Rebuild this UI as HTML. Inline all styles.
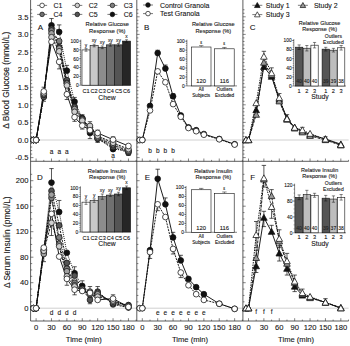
<!DOCTYPE html><html><head><meta charset="utf-8"><style>html,body{margin:0;padding:0;background:#fff;width:350px;height:346px;overflow:hidden}svg{display:block}text{font-family:"Liberation Sans",sans-serif;stroke:#222;stroke-width:0.1px;paint-order:stroke}</style></head><body>
<svg width="350" height="346" viewBox="0 0 350 346">
<line x1="30.60" y1="140.00" x2="348.60" y2="140.00" stroke="#c4c4c4" stroke-width="0.8" />
<line x1="30.60" y1="308.20" x2="348.60" y2="308.20" stroke="#c4c4c4" stroke-width="0.8" />
<line x1="30.60" y1="0.00" x2="30.60" y2="321.00" stroke="#333" stroke-width="0.8" />
<line x1="136.80" y1="0.00" x2="136.80" y2="321.00" stroke="#333" stroke-width="0.8" />
<line x1="242.90" y1="0.00" x2="242.90" y2="321.00" stroke="#333" stroke-width="0.8" />
<line x1="30.60" y1="161.30" x2="348.60" y2="161.30" stroke="#333" stroke-width="0.8" />
<line x1="30.60" y1="321.00" x2="348.60" y2="321.00" stroke="#333" stroke-width="0.8" />
<line x1="30.60" y1="157.60" x2="33.40" y2="157.60" stroke="#333" stroke-width="0.6" />
<line x1="30.60" y1="154.08" x2="32.20" y2="154.08" stroke="#333" stroke-width="0.6" />
<line x1="30.60" y1="150.56" x2="32.20" y2="150.56" stroke="#333" stroke-width="0.6" />
<line x1="30.60" y1="147.04" x2="32.20" y2="147.04" stroke="#333" stroke-width="0.6" />
<line x1="30.60" y1="143.52" x2="32.20" y2="143.52" stroke="#333" stroke-width="0.6" />
<line x1="30.60" y1="140.00" x2="33.40" y2="140.00" stroke="#333" stroke-width="0.6" />
<line x1="30.60" y1="136.48" x2="32.20" y2="136.48" stroke="#333" stroke-width="0.6" />
<line x1="30.60" y1="132.96" x2="32.20" y2="132.96" stroke="#333" stroke-width="0.6" />
<line x1="30.60" y1="129.44" x2="32.20" y2="129.44" stroke="#333" stroke-width="0.6" />
<line x1="30.60" y1="125.92" x2="32.20" y2="125.92" stroke="#333" stroke-width="0.6" />
<line x1="30.60" y1="122.40" x2="33.40" y2="122.40" stroke="#333" stroke-width="0.6" />
<line x1="30.60" y1="118.88" x2="32.20" y2="118.88" stroke="#333" stroke-width="0.6" />
<line x1="30.60" y1="115.36" x2="32.20" y2="115.36" stroke="#333" stroke-width="0.6" />
<line x1="30.60" y1="111.84" x2="32.20" y2="111.84" stroke="#333" stroke-width="0.6" />
<line x1="30.60" y1="108.32" x2="32.20" y2="108.32" stroke="#333" stroke-width="0.6" />
<line x1="30.60" y1="104.80" x2="33.40" y2="104.80" stroke="#333" stroke-width="0.6" />
<line x1="30.60" y1="101.28" x2="32.20" y2="101.28" stroke="#333" stroke-width="0.6" />
<line x1="30.60" y1="97.76" x2="32.20" y2="97.76" stroke="#333" stroke-width="0.6" />
<line x1="30.60" y1="94.24" x2="32.20" y2="94.24" stroke="#333" stroke-width="0.6" />
<line x1="30.60" y1="90.72" x2="32.20" y2="90.72" stroke="#333" stroke-width="0.6" />
<line x1="30.60" y1="87.20" x2="33.40" y2="87.20" stroke="#333" stroke-width="0.6" />
<line x1="30.60" y1="83.68" x2="32.20" y2="83.68" stroke="#333" stroke-width="0.6" />
<line x1="30.60" y1="80.16" x2="32.20" y2="80.16" stroke="#333" stroke-width="0.6" />
<line x1="30.60" y1="76.64" x2="32.20" y2="76.64" stroke="#333" stroke-width="0.6" />
<line x1="30.60" y1="73.12" x2="32.20" y2="73.12" stroke="#333" stroke-width="0.6" />
<line x1="30.60" y1="69.60" x2="33.40" y2="69.60" stroke="#333" stroke-width="0.6" />
<line x1="30.60" y1="66.08" x2="32.20" y2="66.08" stroke="#333" stroke-width="0.6" />
<line x1="30.60" y1="62.56" x2="32.20" y2="62.56" stroke="#333" stroke-width="0.6" />
<line x1="30.60" y1="59.04" x2="32.20" y2="59.04" stroke="#333" stroke-width="0.6" />
<line x1="30.60" y1="55.52" x2="32.20" y2="55.52" stroke="#333" stroke-width="0.6" />
<line x1="30.60" y1="52.00" x2="33.40" y2="52.00" stroke="#333" stroke-width="0.6" />
<line x1="30.60" y1="48.48" x2="32.20" y2="48.48" stroke="#333" stroke-width="0.6" />
<line x1="30.60" y1="44.96" x2="32.20" y2="44.96" stroke="#333" stroke-width="0.6" />
<line x1="30.60" y1="41.44" x2="32.20" y2="41.44" stroke="#333" stroke-width="0.6" />
<line x1="30.60" y1="37.92" x2="32.20" y2="37.92" stroke="#333" stroke-width="0.6" />
<line x1="30.60" y1="34.40" x2="33.40" y2="34.40" stroke="#333" stroke-width="0.6" />
<line x1="30.60" y1="30.88" x2="32.20" y2="30.88" stroke="#333" stroke-width="0.6" />
<line x1="30.60" y1="27.36" x2="32.20" y2="27.36" stroke="#333" stroke-width="0.6" />
<line x1="30.60" y1="23.84" x2="32.20" y2="23.84" stroke="#333" stroke-width="0.6" />
<line x1="30.60" y1="20.32" x2="32.20" y2="20.32" stroke="#333" stroke-width="0.6" />
<line x1="30.60" y1="16.80" x2="33.40" y2="16.80" stroke="#333" stroke-width="0.6" />
<line x1="30.60" y1="13.28" x2="32.20" y2="13.28" stroke="#333" stroke-width="0.6" />
<line x1="30.60" y1="9.76" x2="32.20" y2="9.76" stroke="#333" stroke-width="0.6" />
<line x1="30.60" y1="308.20" x2="33.40" y2="308.20" stroke="#333" stroke-width="0.6" />
<line x1="30.60" y1="301.82" x2="32.20" y2="301.82" stroke="#333" stroke-width="0.6" />
<line x1="30.60" y1="295.45" x2="32.20" y2="295.45" stroke="#333" stroke-width="0.6" />
<line x1="30.60" y1="289.07" x2="32.20" y2="289.07" stroke="#333" stroke-width="0.6" />
<line x1="30.60" y1="282.70" x2="33.40" y2="282.70" stroke="#333" stroke-width="0.6" />
<line x1="30.60" y1="276.32" x2="32.20" y2="276.32" stroke="#333" stroke-width="0.6" />
<line x1="30.60" y1="269.95" x2="32.20" y2="269.95" stroke="#333" stroke-width="0.6" />
<line x1="30.60" y1="263.57" x2="32.20" y2="263.57" stroke="#333" stroke-width="0.6" />
<line x1="30.60" y1="257.20" x2="33.40" y2="257.20" stroke="#333" stroke-width="0.6" />
<line x1="30.60" y1="250.82" x2="32.20" y2="250.82" stroke="#333" stroke-width="0.6" />
<line x1="30.60" y1="244.45" x2="32.20" y2="244.45" stroke="#333" stroke-width="0.6" />
<line x1="30.60" y1="238.07" x2="32.20" y2="238.07" stroke="#333" stroke-width="0.6" />
<line x1="30.60" y1="231.70" x2="33.40" y2="231.70" stroke="#333" stroke-width="0.6" />
<line x1="30.60" y1="225.32" x2="32.20" y2="225.32" stroke="#333" stroke-width="0.6" />
<line x1="30.60" y1="218.95" x2="32.20" y2="218.95" stroke="#333" stroke-width="0.6" />
<line x1="30.60" y1="212.57" x2="32.20" y2="212.57" stroke="#333" stroke-width="0.6" />
<line x1="30.60" y1="206.20" x2="33.40" y2="206.20" stroke="#333" stroke-width="0.6" />
<line x1="30.60" y1="199.82" x2="32.20" y2="199.82" stroke="#333" stroke-width="0.6" />
<line x1="30.60" y1="193.45" x2="32.20" y2="193.45" stroke="#333" stroke-width="0.6" />
<line x1="30.60" y1="187.07" x2="32.20" y2="187.07" stroke="#333" stroke-width="0.6" />
<line x1="30.60" y1="180.70" x2="33.40" y2="180.70" stroke="#333" stroke-width="0.6" />
<line x1="30.60" y1="174.32" x2="32.20" y2="174.32" stroke="#333" stroke-width="0.6" />
<line x1="36.10" y1="161.30" x2="36.10" y2="158.50" stroke="#333" stroke-width="0.6" />
<line x1="36.10" y1="321.00" x2="36.10" y2="318.20" stroke="#333" stroke-width="0.6" />
<line x1="43.80" y1="161.30" x2="43.80" y2="159.90" stroke="#333" stroke-width="0.6" />
<line x1="43.80" y1="321.00" x2="43.80" y2="319.60" stroke="#333" stroke-width="0.6" />
<line x1="51.49" y1="161.30" x2="51.49" y2="158.50" stroke="#333" stroke-width="0.6" />
<line x1="51.49" y1="321.00" x2="51.49" y2="318.20" stroke="#333" stroke-width="0.6" />
<line x1="59.19" y1="161.30" x2="59.19" y2="159.90" stroke="#333" stroke-width="0.6" />
<line x1="59.19" y1="321.00" x2="59.19" y2="319.60" stroke="#333" stroke-width="0.6" />
<line x1="66.88" y1="161.30" x2="66.88" y2="158.50" stroke="#333" stroke-width="0.6" />
<line x1="66.88" y1="321.00" x2="66.88" y2="318.20" stroke="#333" stroke-width="0.6" />
<line x1="74.58" y1="161.30" x2="74.58" y2="159.90" stroke="#333" stroke-width="0.6" />
<line x1="74.58" y1="321.00" x2="74.58" y2="319.60" stroke="#333" stroke-width="0.6" />
<line x1="82.27" y1="161.30" x2="82.27" y2="158.50" stroke="#333" stroke-width="0.6" />
<line x1="82.27" y1="321.00" x2="82.27" y2="318.20" stroke="#333" stroke-width="0.6" />
<line x1="89.97" y1="161.30" x2="89.97" y2="159.90" stroke="#333" stroke-width="0.6" />
<line x1="89.97" y1="321.00" x2="89.97" y2="319.60" stroke="#333" stroke-width="0.6" />
<line x1="97.66" y1="161.30" x2="97.66" y2="158.50" stroke="#333" stroke-width="0.6" />
<line x1="97.66" y1="321.00" x2="97.66" y2="318.20" stroke="#333" stroke-width="0.6" />
<line x1="105.35" y1="161.30" x2="105.35" y2="159.90" stroke="#333" stroke-width="0.6" />
<line x1="105.35" y1="321.00" x2="105.35" y2="319.60" stroke="#333" stroke-width="0.6" />
<line x1="113.05" y1="161.30" x2="113.05" y2="158.50" stroke="#333" stroke-width="0.6" />
<line x1="113.05" y1="321.00" x2="113.05" y2="318.20" stroke="#333" stroke-width="0.6" />
<line x1="120.75" y1="161.30" x2="120.75" y2="159.90" stroke="#333" stroke-width="0.6" />
<line x1="120.75" y1="321.00" x2="120.75" y2="319.60" stroke="#333" stroke-width="0.6" />
<line x1="128.44" y1="161.30" x2="128.44" y2="158.50" stroke="#333" stroke-width="0.6" />
<line x1="128.44" y1="321.00" x2="128.44" y2="318.20" stroke="#333" stroke-width="0.6" />
<line x1="136.13" y1="161.30" x2="136.13" y2="159.90" stroke="#333" stroke-width="0.6" />
<line x1="136.13" y1="321.00" x2="136.13" y2="319.60" stroke="#333" stroke-width="0.6" />
<text x="36.1" y="330.0" font-size="7.6" text-anchor="middle" fill="#111" >0</text>
<text x="51.5" y="330.0" font-size="7.6" text-anchor="middle" fill="#111" >30</text>
<text x="66.9" y="330.0" font-size="7.6" text-anchor="middle" fill="#111" >60</text>
<text x="82.3" y="330.0" font-size="7.6" text-anchor="middle" fill="#111" >90</text>
<text x="97.7" y="330.0" font-size="7.6" text-anchor="middle" fill="#111" >120</text>
<text x="113.1" y="330.0" font-size="7.6" text-anchor="middle" fill="#111" >150</text>
<text x="128.4" y="330.0" font-size="7.6" text-anchor="middle" fill="#111" >180</text>
<text x="83.8" y="342.3" font-size="7.6" text-anchor="middle" fill="#111" >Time (min)</text>
<line x1="136.80" y1="157.60" x2="139.60" y2="157.60" stroke="#333" stroke-width="0.6" />
<line x1="136.80" y1="154.08" x2="138.40" y2="154.08" stroke="#333" stroke-width="0.6" />
<line x1="136.80" y1="150.56" x2="138.40" y2="150.56" stroke="#333" stroke-width="0.6" />
<line x1="136.80" y1="147.04" x2="138.40" y2="147.04" stroke="#333" stroke-width="0.6" />
<line x1="136.80" y1="143.52" x2="138.40" y2="143.52" stroke="#333" stroke-width="0.6" />
<line x1="136.80" y1="140.00" x2="139.60" y2="140.00" stroke="#333" stroke-width="0.6" />
<line x1="136.80" y1="136.48" x2="138.40" y2="136.48" stroke="#333" stroke-width="0.6" />
<line x1="136.80" y1="132.96" x2="138.40" y2="132.96" stroke="#333" stroke-width="0.6" />
<line x1="136.80" y1="129.44" x2="138.40" y2="129.44" stroke="#333" stroke-width="0.6" />
<line x1="136.80" y1="125.92" x2="138.40" y2="125.92" stroke="#333" stroke-width="0.6" />
<line x1="136.80" y1="122.40" x2="139.60" y2="122.40" stroke="#333" stroke-width="0.6" />
<line x1="136.80" y1="118.88" x2="138.40" y2="118.88" stroke="#333" stroke-width="0.6" />
<line x1="136.80" y1="115.36" x2="138.40" y2="115.36" stroke="#333" stroke-width="0.6" />
<line x1="136.80" y1="111.84" x2="138.40" y2="111.84" stroke="#333" stroke-width="0.6" />
<line x1="136.80" y1="108.32" x2="138.40" y2="108.32" stroke="#333" stroke-width="0.6" />
<line x1="136.80" y1="104.80" x2="139.60" y2="104.80" stroke="#333" stroke-width="0.6" />
<line x1="136.80" y1="101.28" x2="138.40" y2="101.28" stroke="#333" stroke-width="0.6" />
<line x1="136.80" y1="97.76" x2="138.40" y2="97.76" stroke="#333" stroke-width="0.6" />
<line x1="136.80" y1="94.24" x2="138.40" y2="94.24" stroke="#333" stroke-width="0.6" />
<line x1="136.80" y1="90.72" x2="138.40" y2="90.72" stroke="#333" stroke-width="0.6" />
<line x1="136.80" y1="87.20" x2="139.60" y2="87.20" stroke="#333" stroke-width="0.6" />
<line x1="136.80" y1="83.68" x2="138.40" y2="83.68" stroke="#333" stroke-width="0.6" />
<line x1="136.80" y1="80.16" x2="138.40" y2="80.16" stroke="#333" stroke-width="0.6" />
<line x1="136.80" y1="76.64" x2="138.40" y2="76.64" stroke="#333" stroke-width="0.6" />
<line x1="136.80" y1="73.12" x2="138.40" y2="73.12" stroke="#333" stroke-width="0.6" />
<line x1="136.80" y1="69.60" x2="139.60" y2="69.60" stroke="#333" stroke-width="0.6" />
<line x1="136.80" y1="66.08" x2="138.40" y2="66.08" stroke="#333" stroke-width="0.6" />
<line x1="136.80" y1="62.56" x2="138.40" y2="62.56" stroke="#333" stroke-width="0.6" />
<line x1="136.80" y1="59.04" x2="138.40" y2="59.04" stroke="#333" stroke-width="0.6" />
<line x1="136.80" y1="55.52" x2="138.40" y2="55.52" stroke="#333" stroke-width="0.6" />
<line x1="136.80" y1="52.00" x2="139.60" y2="52.00" stroke="#333" stroke-width="0.6" />
<line x1="136.80" y1="48.48" x2="138.40" y2="48.48" stroke="#333" stroke-width="0.6" />
<line x1="136.80" y1="44.96" x2="138.40" y2="44.96" stroke="#333" stroke-width="0.6" />
<line x1="136.80" y1="41.44" x2="138.40" y2="41.44" stroke="#333" stroke-width="0.6" />
<line x1="136.80" y1="37.92" x2="138.40" y2="37.92" stroke="#333" stroke-width="0.6" />
<line x1="136.80" y1="34.40" x2="139.60" y2="34.40" stroke="#333" stroke-width="0.6" />
<line x1="136.80" y1="30.88" x2="138.40" y2="30.88" stroke="#333" stroke-width="0.6" />
<line x1="136.80" y1="27.36" x2="138.40" y2="27.36" stroke="#333" stroke-width="0.6" />
<line x1="136.80" y1="23.84" x2="138.40" y2="23.84" stroke="#333" stroke-width="0.6" />
<line x1="136.80" y1="20.32" x2="138.40" y2="20.32" stroke="#333" stroke-width="0.6" />
<line x1="136.80" y1="16.80" x2="139.60" y2="16.80" stroke="#333" stroke-width="0.6" />
<line x1="136.80" y1="13.28" x2="138.40" y2="13.28" stroke="#333" stroke-width="0.6" />
<line x1="136.80" y1="9.76" x2="138.40" y2="9.76" stroke="#333" stroke-width="0.6" />
<line x1="136.80" y1="308.20" x2="139.60" y2="308.20" stroke="#333" stroke-width="0.6" />
<line x1="136.80" y1="301.82" x2="138.40" y2="301.82" stroke="#333" stroke-width="0.6" />
<line x1="136.80" y1="295.45" x2="138.40" y2="295.45" stroke="#333" stroke-width="0.6" />
<line x1="136.80" y1="289.07" x2="138.40" y2="289.07" stroke="#333" stroke-width="0.6" />
<line x1="136.80" y1="282.70" x2="139.60" y2="282.70" stroke="#333" stroke-width="0.6" />
<line x1="136.80" y1="276.32" x2="138.40" y2="276.32" stroke="#333" stroke-width="0.6" />
<line x1="136.80" y1="269.95" x2="138.40" y2="269.95" stroke="#333" stroke-width="0.6" />
<line x1="136.80" y1="263.57" x2="138.40" y2="263.57" stroke="#333" stroke-width="0.6" />
<line x1="136.80" y1="257.20" x2="139.60" y2="257.20" stroke="#333" stroke-width="0.6" />
<line x1="136.80" y1="250.82" x2="138.40" y2="250.82" stroke="#333" stroke-width="0.6" />
<line x1="136.80" y1="244.45" x2="138.40" y2="244.45" stroke="#333" stroke-width="0.6" />
<line x1="136.80" y1="238.07" x2="138.40" y2="238.07" stroke="#333" stroke-width="0.6" />
<line x1="136.80" y1="231.70" x2="139.60" y2="231.70" stroke="#333" stroke-width="0.6" />
<line x1="136.80" y1="225.32" x2="138.40" y2="225.32" stroke="#333" stroke-width="0.6" />
<line x1="136.80" y1="218.95" x2="138.40" y2="218.95" stroke="#333" stroke-width="0.6" />
<line x1="136.80" y1="212.57" x2="138.40" y2="212.57" stroke="#333" stroke-width="0.6" />
<line x1="136.80" y1="206.20" x2="139.60" y2="206.20" stroke="#333" stroke-width="0.6" />
<line x1="136.80" y1="199.82" x2="138.40" y2="199.82" stroke="#333" stroke-width="0.6" />
<line x1="136.80" y1="193.45" x2="138.40" y2="193.45" stroke="#333" stroke-width="0.6" />
<line x1="136.80" y1="187.07" x2="138.40" y2="187.07" stroke="#333" stroke-width="0.6" />
<line x1="136.80" y1="180.70" x2="139.60" y2="180.70" stroke="#333" stroke-width="0.6" />
<line x1="136.80" y1="174.32" x2="138.40" y2="174.32" stroke="#333" stroke-width="0.6" />
<line x1="142.30" y1="161.30" x2="142.30" y2="158.50" stroke="#333" stroke-width="0.6" />
<line x1="142.30" y1="321.00" x2="142.30" y2="318.20" stroke="#333" stroke-width="0.6" />
<line x1="150.00" y1="161.30" x2="150.00" y2="159.90" stroke="#333" stroke-width="0.6" />
<line x1="150.00" y1="321.00" x2="150.00" y2="319.60" stroke="#333" stroke-width="0.6" />
<line x1="157.69" y1="161.30" x2="157.69" y2="158.50" stroke="#333" stroke-width="0.6" />
<line x1="157.69" y1="321.00" x2="157.69" y2="318.20" stroke="#333" stroke-width="0.6" />
<line x1="165.39" y1="161.30" x2="165.39" y2="159.90" stroke="#333" stroke-width="0.6" />
<line x1="165.39" y1="321.00" x2="165.39" y2="319.60" stroke="#333" stroke-width="0.6" />
<line x1="173.08" y1="161.30" x2="173.08" y2="158.50" stroke="#333" stroke-width="0.6" />
<line x1="173.08" y1="321.00" x2="173.08" y2="318.20" stroke="#333" stroke-width="0.6" />
<line x1="180.78" y1="161.30" x2="180.78" y2="159.90" stroke="#333" stroke-width="0.6" />
<line x1="180.78" y1="321.00" x2="180.78" y2="319.60" stroke="#333" stroke-width="0.6" />
<line x1="188.47" y1="161.30" x2="188.47" y2="158.50" stroke="#333" stroke-width="0.6" />
<line x1="188.47" y1="321.00" x2="188.47" y2="318.20" stroke="#333" stroke-width="0.6" />
<line x1="196.17" y1="161.30" x2="196.17" y2="159.90" stroke="#333" stroke-width="0.6" />
<line x1="196.17" y1="321.00" x2="196.17" y2="319.60" stroke="#333" stroke-width="0.6" />
<line x1="203.86" y1="161.30" x2="203.86" y2="158.50" stroke="#333" stroke-width="0.6" />
<line x1="203.86" y1="321.00" x2="203.86" y2="318.20" stroke="#333" stroke-width="0.6" />
<line x1="211.56" y1="161.30" x2="211.56" y2="159.90" stroke="#333" stroke-width="0.6" />
<line x1="211.56" y1="321.00" x2="211.56" y2="319.60" stroke="#333" stroke-width="0.6" />
<line x1="219.25" y1="161.30" x2="219.25" y2="158.50" stroke="#333" stroke-width="0.6" />
<line x1="219.25" y1="321.00" x2="219.25" y2="318.20" stroke="#333" stroke-width="0.6" />
<line x1="226.94" y1="161.30" x2="226.94" y2="159.90" stroke="#333" stroke-width="0.6" />
<line x1="226.94" y1="321.00" x2="226.94" y2="319.60" stroke="#333" stroke-width="0.6" />
<line x1="234.64" y1="161.30" x2="234.64" y2="158.50" stroke="#333" stroke-width="0.6" />
<line x1="234.64" y1="321.00" x2="234.64" y2="318.20" stroke="#333" stroke-width="0.6" />
<line x1="242.34" y1="161.30" x2="242.34" y2="159.90" stroke="#333" stroke-width="0.6" />
<line x1="242.34" y1="321.00" x2="242.34" y2="319.60" stroke="#333" stroke-width="0.6" />
<text x="142.3" y="330.0" font-size="7.6" text-anchor="middle" fill="#111" >0</text>
<text x="157.7" y="330.0" font-size="7.6" text-anchor="middle" fill="#111" >30</text>
<text x="173.1" y="330.0" font-size="7.6" text-anchor="middle" fill="#111" >60</text>
<text x="188.5" y="330.0" font-size="7.6" text-anchor="middle" fill="#111" >90</text>
<text x="203.9" y="330.0" font-size="7.6" text-anchor="middle" fill="#111" >120</text>
<text x="219.2" y="330.0" font-size="7.6" text-anchor="middle" fill="#111" >150</text>
<text x="234.6" y="330.0" font-size="7.6" text-anchor="middle" fill="#111" >180</text>
<text x="190.0" y="342.3" font-size="7.6" text-anchor="middle" fill="#111" >Time (min)</text>
<line x1="242.90" y1="157.60" x2="245.70" y2="157.60" stroke="#333" stroke-width="0.6" />
<line x1="242.90" y1="154.08" x2="244.50" y2="154.08" stroke="#333" stroke-width="0.6" />
<line x1="242.90" y1="150.56" x2="244.50" y2="150.56" stroke="#333" stroke-width="0.6" />
<line x1="242.90" y1="147.04" x2="244.50" y2="147.04" stroke="#333" stroke-width="0.6" />
<line x1="242.90" y1="143.52" x2="244.50" y2="143.52" stroke="#333" stroke-width="0.6" />
<line x1="242.90" y1="140.00" x2="245.70" y2="140.00" stroke="#333" stroke-width="0.6" />
<line x1="242.90" y1="136.48" x2="244.50" y2="136.48" stroke="#333" stroke-width="0.6" />
<line x1="242.90" y1="132.96" x2="244.50" y2="132.96" stroke="#333" stroke-width="0.6" />
<line x1="242.90" y1="129.44" x2="244.50" y2="129.44" stroke="#333" stroke-width="0.6" />
<line x1="242.90" y1="125.92" x2="244.50" y2="125.92" stroke="#333" stroke-width="0.6" />
<line x1="242.90" y1="122.40" x2="245.70" y2="122.40" stroke="#333" stroke-width="0.6" />
<line x1="242.90" y1="118.88" x2="244.50" y2="118.88" stroke="#333" stroke-width="0.6" />
<line x1="242.90" y1="115.36" x2="244.50" y2="115.36" stroke="#333" stroke-width="0.6" />
<line x1="242.90" y1="111.84" x2="244.50" y2="111.84" stroke="#333" stroke-width="0.6" />
<line x1="242.90" y1="108.32" x2="244.50" y2="108.32" stroke="#333" stroke-width="0.6" />
<line x1="242.90" y1="104.80" x2="245.70" y2="104.80" stroke="#333" stroke-width="0.6" />
<line x1="242.90" y1="101.28" x2="244.50" y2="101.28" stroke="#333" stroke-width="0.6" />
<line x1="242.90" y1="97.76" x2="244.50" y2="97.76" stroke="#333" stroke-width="0.6" />
<line x1="242.90" y1="94.24" x2="244.50" y2="94.24" stroke="#333" stroke-width="0.6" />
<line x1="242.90" y1="90.72" x2="244.50" y2="90.72" stroke="#333" stroke-width="0.6" />
<line x1="242.90" y1="87.20" x2="245.70" y2="87.20" stroke="#333" stroke-width="0.6" />
<line x1="242.90" y1="83.68" x2="244.50" y2="83.68" stroke="#333" stroke-width="0.6" />
<line x1="242.90" y1="80.16" x2="244.50" y2="80.16" stroke="#333" stroke-width="0.6" />
<line x1="242.90" y1="76.64" x2="244.50" y2="76.64" stroke="#333" stroke-width="0.6" />
<line x1="242.90" y1="73.12" x2="244.50" y2="73.12" stroke="#333" stroke-width="0.6" />
<line x1="242.90" y1="69.60" x2="245.70" y2="69.60" stroke="#333" stroke-width="0.6" />
<line x1="242.90" y1="66.08" x2="244.50" y2="66.08" stroke="#333" stroke-width="0.6" />
<line x1="242.90" y1="62.56" x2="244.50" y2="62.56" stroke="#333" stroke-width="0.6" />
<line x1="242.90" y1="59.04" x2="244.50" y2="59.04" stroke="#333" stroke-width="0.6" />
<line x1="242.90" y1="55.52" x2="244.50" y2="55.52" stroke="#333" stroke-width="0.6" />
<line x1="242.90" y1="52.00" x2="245.70" y2="52.00" stroke="#333" stroke-width="0.6" />
<line x1="242.90" y1="48.48" x2="244.50" y2="48.48" stroke="#333" stroke-width="0.6" />
<line x1="242.90" y1="44.96" x2="244.50" y2="44.96" stroke="#333" stroke-width="0.6" />
<line x1="242.90" y1="41.44" x2="244.50" y2="41.44" stroke="#333" stroke-width="0.6" />
<line x1="242.90" y1="37.92" x2="244.50" y2="37.92" stroke="#333" stroke-width="0.6" />
<line x1="242.90" y1="34.40" x2="245.70" y2="34.40" stroke="#333" stroke-width="0.6" />
<line x1="242.90" y1="30.88" x2="244.50" y2="30.88" stroke="#333" stroke-width="0.6" />
<line x1="242.90" y1="27.36" x2="244.50" y2="27.36" stroke="#333" stroke-width="0.6" />
<line x1="242.90" y1="23.84" x2="244.50" y2="23.84" stroke="#333" stroke-width="0.6" />
<line x1="242.90" y1="20.32" x2="244.50" y2="20.32" stroke="#333" stroke-width="0.6" />
<line x1="242.90" y1="16.80" x2="245.70" y2="16.80" stroke="#333" stroke-width="0.6" />
<line x1="242.90" y1="13.28" x2="244.50" y2="13.28" stroke="#333" stroke-width="0.6" />
<line x1="242.90" y1="9.76" x2="244.50" y2="9.76" stroke="#333" stroke-width="0.6" />
<line x1="242.90" y1="308.20" x2="245.70" y2="308.20" stroke="#333" stroke-width="0.6" />
<line x1="242.90" y1="301.82" x2="244.50" y2="301.82" stroke="#333" stroke-width="0.6" />
<line x1="242.90" y1="295.45" x2="244.50" y2="295.45" stroke="#333" stroke-width="0.6" />
<line x1="242.90" y1="289.07" x2="244.50" y2="289.07" stroke="#333" stroke-width="0.6" />
<line x1="242.90" y1="282.70" x2="245.70" y2="282.70" stroke="#333" stroke-width="0.6" />
<line x1="242.90" y1="276.32" x2="244.50" y2="276.32" stroke="#333" stroke-width="0.6" />
<line x1="242.90" y1="269.95" x2="244.50" y2="269.95" stroke="#333" stroke-width="0.6" />
<line x1="242.90" y1="263.57" x2="244.50" y2="263.57" stroke="#333" stroke-width="0.6" />
<line x1="242.90" y1="257.20" x2="245.70" y2="257.20" stroke="#333" stroke-width="0.6" />
<line x1="242.90" y1="250.82" x2="244.50" y2="250.82" stroke="#333" stroke-width="0.6" />
<line x1="242.90" y1="244.45" x2="244.50" y2="244.45" stroke="#333" stroke-width="0.6" />
<line x1="242.90" y1="238.07" x2="244.50" y2="238.07" stroke="#333" stroke-width="0.6" />
<line x1="242.90" y1="231.70" x2="245.70" y2="231.70" stroke="#333" stroke-width="0.6" />
<line x1="242.90" y1="225.32" x2="244.50" y2="225.32" stroke="#333" stroke-width="0.6" />
<line x1="242.90" y1="218.95" x2="244.50" y2="218.95" stroke="#333" stroke-width="0.6" />
<line x1="242.90" y1="212.57" x2="244.50" y2="212.57" stroke="#333" stroke-width="0.6" />
<line x1="242.90" y1="206.20" x2="245.70" y2="206.20" stroke="#333" stroke-width="0.6" />
<line x1="242.90" y1="199.82" x2="244.50" y2="199.82" stroke="#333" stroke-width="0.6" />
<line x1="242.90" y1="193.45" x2="244.50" y2="193.45" stroke="#333" stroke-width="0.6" />
<line x1="242.90" y1="187.07" x2="244.50" y2="187.07" stroke="#333" stroke-width="0.6" />
<line x1="242.90" y1="180.70" x2="245.70" y2="180.70" stroke="#333" stroke-width="0.6" />
<line x1="242.90" y1="174.32" x2="244.50" y2="174.32" stroke="#333" stroke-width="0.6" />
<line x1="248.50" y1="161.30" x2="248.50" y2="158.50" stroke="#333" stroke-width="0.6" />
<line x1="248.50" y1="321.00" x2="248.50" y2="318.20" stroke="#333" stroke-width="0.6" />
<line x1="256.19" y1="161.30" x2="256.19" y2="159.90" stroke="#333" stroke-width="0.6" />
<line x1="256.19" y1="321.00" x2="256.19" y2="319.60" stroke="#333" stroke-width="0.6" />
<line x1="263.89" y1="161.30" x2="263.89" y2="158.50" stroke="#333" stroke-width="0.6" />
<line x1="263.89" y1="321.00" x2="263.89" y2="318.20" stroke="#333" stroke-width="0.6" />
<line x1="271.58" y1="161.30" x2="271.58" y2="159.90" stroke="#333" stroke-width="0.6" />
<line x1="271.58" y1="321.00" x2="271.58" y2="319.60" stroke="#333" stroke-width="0.6" />
<line x1="279.28" y1="161.30" x2="279.28" y2="158.50" stroke="#333" stroke-width="0.6" />
<line x1="279.28" y1="321.00" x2="279.28" y2="318.20" stroke="#333" stroke-width="0.6" />
<line x1="286.98" y1="161.30" x2="286.98" y2="159.90" stroke="#333" stroke-width="0.6" />
<line x1="286.98" y1="321.00" x2="286.98" y2="319.60" stroke="#333" stroke-width="0.6" />
<line x1="294.67" y1="161.30" x2="294.67" y2="158.50" stroke="#333" stroke-width="0.6" />
<line x1="294.67" y1="321.00" x2="294.67" y2="318.20" stroke="#333" stroke-width="0.6" />
<line x1="302.37" y1="161.30" x2="302.37" y2="159.90" stroke="#333" stroke-width="0.6" />
<line x1="302.37" y1="321.00" x2="302.37" y2="319.60" stroke="#333" stroke-width="0.6" />
<line x1="310.06" y1="161.30" x2="310.06" y2="158.50" stroke="#333" stroke-width="0.6" />
<line x1="310.06" y1="321.00" x2="310.06" y2="318.20" stroke="#333" stroke-width="0.6" />
<line x1="317.75" y1="161.30" x2="317.75" y2="159.90" stroke="#333" stroke-width="0.6" />
<line x1="317.75" y1="321.00" x2="317.75" y2="319.60" stroke="#333" stroke-width="0.6" />
<line x1="325.45" y1="161.30" x2="325.45" y2="158.50" stroke="#333" stroke-width="0.6" />
<line x1="325.45" y1="321.00" x2="325.45" y2="318.20" stroke="#333" stroke-width="0.6" />
<line x1="333.14" y1="161.30" x2="333.14" y2="159.90" stroke="#333" stroke-width="0.6" />
<line x1="333.14" y1="321.00" x2="333.14" y2="319.60" stroke="#333" stroke-width="0.6" />
<line x1="340.84" y1="161.30" x2="340.84" y2="158.50" stroke="#333" stroke-width="0.6" />
<line x1="340.84" y1="321.00" x2="340.84" y2="318.20" stroke="#333" stroke-width="0.6" />
<line x1="348.53" y1="161.30" x2="348.53" y2="159.90" stroke="#333" stroke-width="0.6" />
<line x1="348.53" y1="321.00" x2="348.53" y2="319.60" stroke="#333" stroke-width="0.6" />
<text x="248.5" y="330.0" font-size="7.6" text-anchor="middle" fill="#111" >0</text>
<text x="263.9" y="330.0" font-size="7.6" text-anchor="middle" fill="#111" >30</text>
<text x="279.3" y="330.0" font-size="7.6" text-anchor="middle" fill="#111" >60</text>
<text x="294.7" y="330.0" font-size="7.6" text-anchor="middle" fill="#111" >90</text>
<text x="310.1" y="330.0" font-size="7.6" text-anchor="middle" fill="#111" >120</text>
<text x="325.4" y="330.0" font-size="7.6" text-anchor="middle" fill="#111" >150</text>
<text x="340.8" y="330.0" font-size="7.6" text-anchor="middle" fill="#111" >180</text>
<text x="296.1" y="342.3" font-size="7.6" text-anchor="middle" fill="#111" >Time (min)</text>
<text x="28.4" y="160.3" font-size="7.6" text-anchor="end" fill="#111" >-0.5</text>
<text x="28.4" y="142.7" font-size="7.6" text-anchor="end" fill="#111" >0.0</text>
<text x="28.4" y="125.1" font-size="7.6" text-anchor="end" fill="#111" >0.5</text>
<text x="28.4" y="107.5" font-size="7.6" text-anchor="end" fill="#111" >1.0</text>
<text x="28.4" y="89.9" font-size="7.6" text-anchor="end" fill="#111" >1.5</text>
<text x="28.4" y="72.3" font-size="7.6" text-anchor="end" fill="#111" >2.0</text>
<text x="28.4" y="54.7" font-size="7.6" text-anchor="end" fill="#111" >2.5</text>
<text x="28.4" y="37.1" font-size="7.6" text-anchor="end" fill="#111" >3.0</text>
<text x="28.4" y="19.5" font-size="7.6" text-anchor="end" fill="#111" >3.5</text>
<text x="28.4" y="310.9" font-size="7.6" text-anchor="end" fill="#111" >0</text>
<text x="28.4" y="285.4" font-size="7.6" text-anchor="end" fill="#111" >40</text>
<text x="28.4" y="259.9" font-size="7.6" text-anchor="end" fill="#111" >80</text>
<text x="28.4" y="234.4" font-size="7.6" text-anchor="end" fill="#111" >120</text>
<text x="28.4" y="208.9" font-size="7.6" text-anchor="end" fill="#111" >160</text>
<text x="28.4" y="183.4" font-size="7.6" text-anchor="end" fill="#111" >200</text>
<text x="0.0" y="0.0" font-size="8.35" text-anchor="middle" fill="#111" transform="translate(9.2,80.3) rotate(-90)">Δ Blood Glucose (mmol/L)</text>
<text x="0.0" y="0.0" font-size="8.4" text-anchor="middle" fill="#111" transform="translate(9.6,242.2) rotate(-90)">Δ Serum Insulin (pmol/L)</text>
<text x="40.4" y="29.6" font-size="8.0" text-anchor="middle" fill="#111" >A</text>
<text x="146.7" y="29.6" font-size="8.0" text-anchor="middle" fill="#111" >B</text>
<text x="252.7" y="29.6" font-size="8.0" text-anchor="middle" fill="#111" >C</text>
<text x="40.0" y="179.6" font-size="8.0" text-anchor="middle" fill="#111" >D</text>
<text x="147.3" y="179.6" font-size="8.0" text-anchor="middle" fill="#111" >E</text>
<text x="252.7" y="179.6" font-size="8.0" text-anchor="middle" fill="#111" >F</text>
<polyline points="33.54,140.00 36.10,140.00 43.80,96.00 51.49,25.25 59.19,31.94 66.88,70.66 74.58,101.63 82.27,118.18 89.97,132.96 97.66,138.24 113.05,149.15 128.44,150.56" fill="none" stroke="#111" stroke-width="0.95" stroke-dasharray="1,1"/>
<polyline points="33.54,140.00 36.10,140.00 43.80,97.06 51.49,28.77 59.19,47.07 66.88,80.16 74.58,106.56 82.27,118.18 89.97,131.20 97.66,138.94 113.05,147.04 128.44,152.67" fill="none" stroke="#111" stroke-width="0.95" stroke-dasharray="2,1"/>
<polyline points="33.54,140.00 36.10,140.00 43.80,94.94 51.49,30.53 59.19,41.09 66.88,82.98 74.58,107.62 82.27,118.88 89.97,127.68 97.66,138.24 113.05,145.28 128.44,151.62" fill="none" stroke="#111" stroke-width="0.95" stroke-dasharray="3,1,1,1"/>
<polyline points="33.54,140.00 36.10,140.00 43.80,94.24 51.49,33.34 59.19,48.48 66.88,83.68 74.58,109.02 82.27,119.58 89.97,129.44 97.66,137.18 113.05,144.22 128.44,150.56" fill="none" stroke="#111" stroke-width="0.95" stroke-dasharray="1.5,1"/>
<polyline points="33.54,140.00 36.10,140.00 43.80,93.18 51.49,37.22 59.19,51.30 66.88,85.44 74.58,111.84 82.27,120.64 89.97,125.92 97.66,135.78 113.05,142.82 128.44,149.15" fill="none" stroke="#111" stroke-width="0.95" stroke-dasharray="2.5,1"/>
<polyline points="33.54,140.00 36.10,140.00 43.80,91.42 51.49,41.79 59.19,61.86 66.88,94.24 74.58,117.12 82.27,125.57 89.97,130.14 97.66,132.96 113.05,139.65 128.44,145.98" fill="none" stroke="#111" stroke-width="0.95" />
<line x1="43.80" y1="91.42" x2="43.80" y2="87.20" stroke="#111" stroke-width="0.7" />
<line x1="41.59" y1="87.20" x2="46.00" y2="87.20" stroke="#111" stroke-width="0.7" />
<line x1="51.49" y1="25.25" x2="51.49" y2="18.56" stroke="#111" stroke-width="0.7" />
<line x1="49.29" y1="18.56" x2="53.69" y2="18.56" stroke="#111" stroke-width="0.7" />
<line x1="59.19" y1="31.94" x2="59.19" y2="24.90" stroke="#111" stroke-width="0.7" />
<line x1="56.98" y1="24.90" x2="61.39" y2="24.90" stroke="#111" stroke-width="0.7" />
<line x1="66.88" y1="70.66" x2="66.88" y2="65.38" stroke="#111" stroke-width="0.7" />
<line x1="64.68" y1="65.38" x2="69.08" y2="65.38" stroke="#111" stroke-width="0.7" />
<line x1="74.58" y1="101.63" x2="74.58" y2="97.41" stroke="#111" stroke-width="0.7" />
<line x1="72.38" y1="97.41" x2="76.78" y2="97.41" stroke="#111" stroke-width="0.7" />
<line x1="82.27" y1="118.18" x2="82.27" y2="114.66" stroke="#111" stroke-width="0.7" />
<line x1="80.07" y1="114.66" x2="84.47" y2="114.66" stroke="#111" stroke-width="0.7" />
<line x1="89.97" y1="124.51" x2="89.97" y2="121.70" stroke="#111" stroke-width="0.7" />
<line x1="87.77" y1="121.70" x2="92.17" y2="121.70" stroke="#111" stroke-width="0.7" />
<line x1="97.66" y1="132.96" x2="97.66" y2="130.14" stroke="#111" stroke-width="0.7" />
<line x1="95.46" y1="130.14" x2="99.86" y2="130.14" stroke="#111" stroke-width="0.7" />
<line x1="113.05" y1="139.65" x2="113.05" y2="136.83" stroke="#111" stroke-width="0.7" />
<line x1="110.85" y1="136.83" x2="115.25" y2="136.83" stroke="#111" stroke-width="0.7" />
<line x1="43.80" y1="97.06" x2="43.80" y2="101.28" stroke="#111" stroke-width="0.7" />
<line x1="41.59" y1="101.28" x2="46.00" y2="101.28" stroke="#111" stroke-width="0.7" />
<line x1="59.19" y1="61.86" x2="59.19" y2="68.90" stroke="#111" stroke-width="0.7" />
<line x1="56.98" y1="68.90" x2="61.39" y2="68.90" stroke="#111" stroke-width="0.7" />
<line x1="66.88" y1="94.24" x2="66.88" y2="99.52" stroke="#111" stroke-width="0.7" />
<line x1="64.68" y1="99.52" x2="69.08" y2="99.52" stroke="#111" stroke-width="0.7" />
<line x1="74.58" y1="117.12" x2="74.58" y2="121.34" stroke="#111" stroke-width="0.7" />
<line x1="72.38" y1="121.34" x2="76.78" y2="121.34" stroke="#111" stroke-width="0.7" />
<line x1="82.27" y1="125.57" x2="82.27" y2="129.09" stroke="#111" stroke-width="0.7" />
<line x1="80.07" y1="129.09" x2="84.47" y2="129.09" stroke="#111" stroke-width="0.7" />
<line x1="89.97" y1="135.07" x2="89.97" y2="138.59" stroke="#111" stroke-width="0.7" />
<line x1="87.77" y1="138.59" x2="92.17" y2="138.59" stroke="#111" stroke-width="0.7" />
<line x1="97.66" y1="138.94" x2="97.66" y2="142.46" stroke="#111" stroke-width="0.7" />
<line x1="95.46" y1="142.46" x2="99.86" y2="142.46" stroke="#111" stroke-width="0.7" />
<line x1="128.44" y1="152.67" x2="128.44" y2="155.49" stroke="#111" stroke-width="0.7" />
<line x1="126.24" y1="155.49" x2="130.64" y2="155.49" stroke="#111" stroke-width="0.7" />
<circle cx="33.54" cy="140.00" r="2.85" fill="#111111" stroke="#111" stroke-width="0.75"/>
<circle cx="36.10" cy="140.00" r="2.85" fill="#111111" stroke="#111" stroke-width="0.75"/>
<circle cx="43.80" cy="96.00" r="2.85" fill="#111111" stroke="#111" stroke-width="0.75"/>
<circle cx="51.49" cy="25.25" r="2.85" fill="#111111" stroke="#111" stroke-width="0.75"/>
<circle cx="59.19" cy="31.94" r="2.85" fill="#111111" stroke="#111" stroke-width="0.75"/>
<circle cx="66.88" cy="70.66" r="2.85" fill="#111111" stroke="#111" stroke-width="0.75"/>
<circle cx="74.58" cy="101.63" r="2.85" fill="#111111" stroke="#111" stroke-width="0.75"/>
<circle cx="82.27" cy="118.18" r="2.85" fill="#111111" stroke="#111" stroke-width="0.75"/>
<circle cx="89.97" cy="132.96" r="2.85" fill="#111111" stroke="#111" stroke-width="0.75"/>
<circle cx="97.66" cy="138.24" r="2.85" fill="#111111" stroke="#111" stroke-width="0.75"/>
<circle cx="113.05" cy="149.15" r="2.85" fill="#111111" stroke="#111" stroke-width="0.75"/>
<circle cx="128.44" cy="150.56" r="2.85" fill="#111111" stroke="#111" stroke-width="0.75"/>
<circle cx="33.54" cy="140.00" r="2.85" fill="#555555" stroke="#111" stroke-width="0.75"/>
<circle cx="36.10" cy="140.00" r="2.85" fill="#555555" stroke="#111" stroke-width="0.75"/>
<circle cx="43.80" cy="97.06" r="2.85" fill="#555555" stroke="#111" stroke-width="0.75"/>
<circle cx="51.49" cy="28.77" r="2.85" fill="#555555" stroke="#111" stroke-width="0.75"/>
<circle cx="59.19" cy="47.07" r="2.85" fill="#555555" stroke="#111" stroke-width="0.75"/>
<circle cx="66.88" cy="80.16" r="2.85" fill="#555555" stroke="#111" stroke-width="0.75"/>
<circle cx="74.58" cy="106.56" r="2.85" fill="#555555" stroke="#111" stroke-width="0.75"/>
<circle cx="82.27" cy="118.18" r="2.85" fill="#555555" stroke="#111" stroke-width="0.75"/>
<circle cx="89.97" cy="131.20" r="2.85" fill="#555555" stroke="#111" stroke-width="0.75"/>
<circle cx="97.66" cy="138.94" r="2.85" fill="#555555" stroke="#111" stroke-width="0.75"/>
<circle cx="113.05" cy="147.04" r="2.85" fill="#555555" stroke="#111" stroke-width="0.75"/>
<circle cx="128.44" cy="152.67" r="2.85" fill="#555555" stroke="#111" stroke-width="0.75"/>
<circle cx="33.54" cy="140.00" r="2.85" fill="#808080" stroke="#111" stroke-width="0.75"/>
<circle cx="36.10" cy="140.00" r="2.85" fill="#808080" stroke="#111" stroke-width="0.75"/>
<circle cx="43.80" cy="94.94" r="2.85" fill="#808080" stroke="#111" stroke-width="0.75"/>
<circle cx="51.49" cy="30.53" r="2.85" fill="#808080" stroke="#111" stroke-width="0.75"/>
<circle cx="59.19" cy="41.09" r="2.85" fill="#808080" stroke="#111" stroke-width="0.75"/>
<circle cx="66.88" cy="82.98" r="2.85" fill="#808080" stroke="#111" stroke-width="0.75"/>
<circle cx="74.58" cy="107.62" r="2.85" fill="#808080" stroke="#111" stroke-width="0.75"/>
<circle cx="82.27" cy="118.88" r="2.85" fill="#808080" stroke="#111" stroke-width="0.75"/>
<circle cx="89.97" cy="127.68" r="2.85" fill="#808080" stroke="#111" stroke-width="0.75"/>
<circle cx="97.66" cy="138.24" r="2.85" fill="#808080" stroke="#111" stroke-width="0.75"/>
<circle cx="113.05" cy="145.28" r="2.85" fill="#808080" stroke="#111" stroke-width="0.75"/>
<circle cx="128.44" cy="151.62" r="2.85" fill="#808080" stroke="#111" stroke-width="0.75"/>
<circle cx="33.54" cy="140.00" r="2.85" fill="#a0a0a0" stroke="#111" stroke-width="0.75"/>
<circle cx="36.10" cy="140.00" r="2.85" fill="#a0a0a0" stroke="#111" stroke-width="0.75"/>
<circle cx="43.80" cy="94.24" r="2.85" fill="#a0a0a0" stroke="#111" stroke-width="0.75"/>
<circle cx="51.49" cy="33.34" r="2.85" fill="#a0a0a0" stroke="#111" stroke-width="0.75"/>
<circle cx="59.19" cy="48.48" r="2.85" fill="#a0a0a0" stroke="#111" stroke-width="0.75"/>
<circle cx="66.88" cy="83.68" r="2.85" fill="#a0a0a0" stroke="#111" stroke-width="0.75"/>
<circle cx="74.58" cy="109.02" r="2.85" fill="#a0a0a0" stroke="#111" stroke-width="0.75"/>
<circle cx="82.27" cy="119.58" r="2.85" fill="#a0a0a0" stroke="#111" stroke-width="0.75"/>
<circle cx="89.97" cy="129.44" r="2.85" fill="#a0a0a0" stroke="#111" stroke-width="0.75"/>
<circle cx="97.66" cy="137.18" r="2.85" fill="#a0a0a0" stroke="#111" stroke-width="0.75"/>
<circle cx="113.05" cy="144.22" r="2.85" fill="#a0a0a0" stroke="#111" stroke-width="0.75"/>
<circle cx="128.44" cy="150.56" r="2.85" fill="#a0a0a0" stroke="#111" stroke-width="0.75"/>
<circle cx="33.54" cy="140.00" r="2.85" fill="#cfcfcf" stroke="#111" stroke-width="0.75"/>
<circle cx="36.10" cy="140.00" r="2.85" fill="#cfcfcf" stroke="#111" stroke-width="0.75"/>
<circle cx="43.80" cy="93.18" r="2.85" fill="#cfcfcf" stroke="#111" stroke-width="0.75"/>
<circle cx="51.49" cy="37.22" r="2.85" fill="#cfcfcf" stroke="#111" stroke-width="0.75"/>
<circle cx="59.19" cy="51.30" r="2.85" fill="#cfcfcf" stroke="#111" stroke-width="0.75"/>
<circle cx="66.88" cy="85.44" r="2.85" fill="#cfcfcf" stroke="#111" stroke-width="0.75"/>
<circle cx="74.58" cy="111.84" r="2.85" fill="#cfcfcf" stroke="#111" stroke-width="0.75"/>
<circle cx="82.27" cy="120.64" r="2.85" fill="#cfcfcf" stroke="#111" stroke-width="0.75"/>
<circle cx="89.97" cy="125.92" r="2.85" fill="#cfcfcf" stroke="#111" stroke-width="0.75"/>
<circle cx="97.66" cy="135.78" r="2.85" fill="#cfcfcf" stroke="#111" stroke-width="0.75"/>
<circle cx="113.05" cy="142.82" r="2.85" fill="#cfcfcf" stroke="#111" stroke-width="0.75"/>
<circle cx="128.44" cy="149.15" r="2.85" fill="#cfcfcf" stroke="#111" stroke-width="0.75"/>
<circle cx="33.54" cy="140.00" r="2.85" fill="#ffffff" stroke="#111" stroke-width="0.75"/>
<circle cx="36.10" cy="140.00" r="2.85" fill="#ffffff" stroke="#111" stroke-width="0.75"/>
<circle cx="43.80" cy="91.42" r="2.85" fill="#ffffff" stroke="#111" stroke-width="0.75"/>
<circle cx="51.49" cy="41.79" r="2.85" fill="#ffffff" stroke="#111" stroke-width="0.75"/>
<circle cx="59.19" cy="61.86" r="2.85" fill="#ffffff" stroke="#111" stroke-width="0.75"/>
<circle cx="66.88" cy="94.24" r="2.85" fill="#ffffff" stroke="#111" stroke-width="0.75"/>
<circle cx="74.58" cy="117.12" r="2.85" fill="#ffffff" stroke="#111" stroke-width="0.75"/>
<circle cx="82.27" cy="125.57" r="2.85" fill="#ffffff" stroke="#111" stroke-width="0.75"/>
<circle cx="89.97" cy="130.14" r="2.85" fill="#ffffff" stroke="#111" stroke-width="0.75"/>
<circle cx="97.66" cy="132.96" r="2.85" fill="#ffffff" stroke="#111" stroke-width="0.75"/>
<circle cx="113.05" cy="139.65" r="2.85" fill="#ffffff" stroke="#111" stroke-width="0.75"/>
<circle cx="128.44" cy="145.98" r="2.85" fill="#ffffff" stroke="#111" stroke-width="0.75"/>
<text x="51.5" y="153.5" font-size="6.5" text-anchor="middle" fill="#111" >a</text>
<text x="59.2" y="153.5" font-size="6.5" text-anchor="middle" fill="#111" >a</text>
<text x="66.9" y="153.5" font-size="6.5" text-anchor="middle" fill="#111" >a</text>
<text x="113.1" y="157.5" font-size="6.5" text-anchor="middle" fill="#111" >a</text>
<polyline points="139.74,140.00 142.30,140.00 150.00,105.86 157.69,53.06 165.39,68.54 173.08,96.35 180.78,115.36 188.47,127.33 196.17,130.14 203.86,134.02 219.25,138.94 234.64,144.22" fill="none" stroke="#111" stroke-width="0.95" />
<polyline points="139.74,140.00 142.30,140.00 150.00,110.43 157.69,71.36 165.39,82.27 173.08,104.10 180.78,116.77 188.47,128.03 196.17,131.20 203.86,134.72 219.25,139.30 234.64,144.58" fill="none" stroke="#111" stroke-width="0.95" stroke-dasharray="2,1"/>
<line x1="157.69" y1="53.06" x2="157.69" y2="50.24" stroke="#111" stroke-width="0.7" />
<line x1="155.49" y1="50.24" x2="159.89" y2="50.24" stroke="#111" stroke-width="0.7" />
<line x1="165.39" y1="68.54" x2="165.39" y2="65.02" stroke="#111" stroke-width="0.7" />
<line x1="163.19" y1="65.02" x2="167.59" y2="65.02" stroke="#111" stroke-width="0.7" />
<line x1="173.08" y1="96.35" x2="173.08" y2="93.54" stroke="#111" stroke-width="0.7" />
<line x1="170.88" y1="93.54" x2="175.28" y2="93.54" stroke="#111" stroke-width="0.7" />
<circle cx="139.74" cy="140.00" r="2.85" fill="#111" stroke="#111" stroke-width="0.75"/>
<circle cx="142.30" cy="140.00" r="2.85" fill="#111" stroke="#111" stroke-width="0.75"/>
<circle cx="150.00" cy="105.86" r="2.85" fill="#111" stroke="#111" stroke-width="0.75"/>
<circle cx="157.69" cy="53.06" r="2.85" fill="#111" stroke="#111" stroke-width="0.75"/>
<circle cx="165.39" cy="68.54" r="2.85" fill="#111" stroke="#111" stroke-width="0.75"/>
<circle cx="173.08" cy="96.35" r="2.85" fill="#111" stroke="#111" stroke-width="0.75"/>
<circle cx="180.78" cy="115.36" r="2.85" fill="#111" stroke="#111" stroke-width="0.75"/>
<circle cx="188.47" cy="127.33" r="2.85" fill="#111" stroke="#111" stroke-width="0.75"/>
<circle cx="196.17" cy="130.14" r="2.85" fill="#111" stroke="#111" stroke-width="0.75"/>
<circle cx="203.86" cy="134.02" r="2.85" fill="#111" stroke="#111" stroke-width="0.75"/>
<circle cx="219.25" cy="138.94" r="2.85" fill="#111" stroke="#111" stroke-width="0.75"/>
<circle cx="234.64" cy="144.22" r="2.85" fill="#111" stroke="#111" stroke-width="0.75"/>
<circle cx="139.74" cy="140.00" r="2.85" fill="#fff" stroke="#111" stroke-width="0.75"/>
<circle cx="142.30" cy="140.00" r="2.85" fill="#fff" stroke="#111" stroke-width="0.75"/>
<circle cx="150.00" cy="110.43" r="2.85" fill="#fff" stroke="#111" stroke-width="0.75"/>
<circle cx="157.69" cy="71.36" r="2.85" fill="#fff" stroke="#111" stroke-width="0.75"/>
<circle cx="165.39" cy="82.27" r="2.85" fill="#fff" stroke="#111" stroke-width="0.75"/>
<circle cx="173.08" cy="104.10" r="2.85" fill="#fff" stroke="#111" stroke-width="0.75"/>
<circle cx="180.78" cy="116.77" r="2.85" fill="#fff" stroke="#111" stroke-width="0.75"/>
<circle cx="188.47" cy="128.03" r="2.85" fill="#fff" stroke="#111" stroke-width="0.75"/>
<circle cx="196.17" cy="131.20" r="2.85" fill="#fff" stroke="#111" stroke-width="0.75"/>
<circle cx="203.86" cy="134.72" r="2.85" fill="#fff" stroke="#111" stroke-width="0.75"/>
<circle cx="219.25" cy="139.30" r="2.85" fill="#fff" stroke="#111" stroke-width="0.75"/>
<circle cx="234.64" cy="144.58" r="2.85" fill="#fff" stroke="#111" stroke-width="0.75"/>
<text x="150.0" y="152.5" font-size="6.5" text-anchor="middle" fill="#111" >b</text>
<text x="157.7" y="152.5" font-size="6.5" text-anchor="middle" fill="#111" >b</text>
<text x="165.4" y="152.5" font-size="6.5" text-anchor="middle" fill="#111" >b</text>
<text x="173.1" y="152.5" font-size="6.5" text-anchor="middle" fill="#111" >b</text>
<polyline points="245.94,140.00 248.50,140.00 256.19,110.08 263.89,66.78 271.58,76.64 279.28,99.52 286.98,118.18 294.67,127.33 302.37,131.20 310.06,134.72 325.45,138.94 340.84,144.22" fill="none" stroke="#111" stroke-width="0.95" />
<polyline points="245.94,140.00 248.50,140.00 256.19,114.66 263.89,62.56 271.58,74.88 279.28,101.28 286.98,119.58 294.67,128.38 302.37,132.26 310.06,135.78 325.45,140.00 340.84,145.28" fill="none" stroke="#111" stroke-width="0.95" stroke-dasharray="3,1"/>
<polyline points="245.94,140.00 248.50,140.00 256.19,103.04 263.89,56.58 271.58,73.12 279.28,97.76 286.98,118.88 294.67,127.68 302.37,130.14 310.06,133.66 325.45,139.30 340.84,144.93" fill="none" stroke="#111" stroke-width="0.95" stroke-dasharray="1.5,1"/>
<line x1="263.89" y1="56.58" x2="263.89" y2="51.30" stroke="#111" stroke-width="0.7" />
<line x1="261.69" y1="51.30" x2="266.09" y2="51.30" stroke="#111" stroke-width="0.7" />
<line x1="271.58" y1="73.12" x2="271.58" y2="67.84" stroke="#111" stroke-width="0.7" />
<line x1="269.38" y1="67.84" x2="273.78" y2="67.84" stroke="#111" stroke-width="0.7" />
<line x1="279.28" y1="97.76" x2="279.28" y2="93.54" stroke="#111" stroke-width="0.7" />
<line x1="277.08" y1="93.54" x2="281.48" y2="93.54" stroke="#111" stroke-width="0.7" />
<line x1="286.98" y1="118.18" x2="286.98" y2="114.66" stroke="#111" stroke-width="0.7" />
<line x1="284.78" y1="114.66" x2="289.18" y2="114.66" stroke="#111" stroke-width="0.7" />
<line x1="302.37" y1="130.14" x2="302.37" y2="127.33" stroke="#111" stroke-width="0.7" />
<line x1="300.17" y1="127.33" x2="304.56" y2="127.33" stroke="#111" stroke-width="0.7" />
<line x1="325.45" y1="138.94" x2="325.45" y2="136.83" stroke="#111" stroke-width="0.7" />
<line x1="323.25" y1="136.83" x2="327.65" y2="136.83" stroke="#111" stroke-width="0.7" />
<polygon points="245.94,136.70 249.24,142.64 242.63,142.64" fill="#111" stroke="#111" stroke-width="0.75"/>
<polygon points="248.50,136.70 251.80,142.64 245.20,142.64" fill="#111" stroke="#111" stroke-width="0.75"/>
<polygon points="256.19,106.78 259.50,112.72 252.89,112.72" fill="#111" stroke="#111" stroke-width="0.75"/>
<polygon points="263.89,63.48 267.19,69.42 260.59,69.42" fill="#111" stroke="#111" stroke-width="0.75"/>
<polygon points="271.58,73.34 274.88,79.28 268.28,79.28" fill="#111" stroke="#111" stroke-width="0.75"/>
<polygon points="279.28,96.22 282.58,102.16 275.98,102.16" fill="#111" stroke="#111" stroke-width="0.75"/>
<polygon points="286.98,114.88 290.28,120.82 283.68,120.82" fill="#111" stroke="#111" stroke-width="0.75"/>
<polygon points="294.67,124.03 297.97,129.97 291.37,129.97" fill="#111" stroke="#111" stroke-width="0.75"/>
<polygon points="302.37,127.90 305.67,133.84 299.06,133.84" fill="#111" stroke="#111" stroke-width="0.75"/>
<polygon points="310.06,131.42 313.36,137.36 306.76,137.36" fill="#111" stroke="#111" stroke-width="0.75"/>
<polygon points="325.45,135.64 328.75,141.58 322.15,141.58" fill="#111" stroke="#111" stroke-width="0.75"/>
<polygon points="340.84,140.92 344.14,146.86 337.54,146.86" fill="#111" stroke="#111" stroke-width="0.75"/>
<polygon points="245.94,136.70 249.24,142.64 242.63,142.64" fill="#999" stroke="#111" stroke-width="0.75"/>
<polygon points="248.50,136.70 251.80,142.64 245.20,142.64" fill="#999" stroke="#111" stroke-width="0.75"/>
<polygon points="256.19,111.36 259.50,117.30 252.89,117.30" fill="#999" stroke="#111" stroke-width="0.75"/>
<polygon points="263.89,59.26 267.19,65.20 260.59,65.20" fill="#999" stroke="#111" stroke-width="0.75"/>
<polygon points="271.58,71.58 274.88,77.52 268.28,77.52" fill="#999" stroke="#111" stroke-width="0.75"/>
<polygon points="279.28,97.98 282.58,103.92 275.98,103.92" fill="#999" stroke="#111" stroke-width="0.75"/>
<polygon points="286.98,116.28 290.28,122.22 283.68,122.22" fill="#999" stroke="#111" stroke-width="0.75"/>
<polygon points="294.67,125.08 297.97,131.02 291.37,131.02" fill="#999" stroke="#111" stroke-width="0.75"/>
<polygon points="302.37,128.96 305.67,134.90 299.06,134.90" fill="#999" stroke="#111" stroke-width="0.75"/>
<polygon points="310.06,132.48 313.36,138.42 306.76,138.42" fill="#999" stroke="#111" stroke-width="0.75"/>
<polygon points="325.45,136.70 328.75,142.64 322.15,142.64" fill="#999" stroke="#111" stroke-width="0.75"/>
<polygon points="340.84,141.98 344.14,147.92 337.54,147.92" fill="#999" stroke="#111" stroke-width="0.75"/>
<polygon points="245.94,136.70 249.24,142.64 242.63,142.64" fill="#fff" stroke="#111" stroke-width="0.75"/>
<polygon points="248.50,136.70 251.80,142.64 245.20,142.64" fill="#fff" stroke="#111" stroke-width="0.75"/>
<polygon points="256.19,99.74 259.50,105.68 252.89,105.68" fill="#fff" stroke="#111" stroke-width="0.75"/>
<polygon points="263.89,53.28 267.19,59.22 260.59,59.22" fill="#fff" stroke="#111" stroke-width="0.75"/>
<polygon points="271.58,69.82 274.88,75.76 268.28,75.76" fill="#fff" stroke="#111" stroke-width="0.75"/>
<polygon points="279.28,94.46 282.58,100.40 275.98,100.40" fill="#fff" stroke="#111" stroke-width="0.75"/>
<polygon points="286.98,115.58 290.28,121.52 283.68,121.52" fill="#fff" stroke="#111" stroke-width="0.75"/>
<polygon points="294.67,124.38 297.97,130.32 291.37,130.32" fill="#fff" stroke="#111" stroke-width="0.75"/>
<polygon points="302.37,126.84 305.67,132.78 299.06,132.78" fill="#fff" stroke="#111" stroke-width="0.75"/>
<polygon points="310.06,130.36 313.36,136.30 306.76,136.30" fill="#fff" stroke="#111" stroke-width="0.75"/>
<polygon points="325.45,136.00 328.75,141.94 322.15,141.94" fill="#fff" stroke="#111" stroke-width="0.75"/>
<polygon points="340.84,141.63 344.14,147.57 337.54,147.57" fill="#fff" stroke="#111" stroke-width="0.75"/>
<polyline points="33.54,308.20 36.10,308.20 43.80,250.82 51.49,182.61 59.19,211.94 66.88,252.74 74.58,273.14 82.27,285.89 89.97,292.26 97.66,294.18 113.05,302.46 128.44,305.01" fill="none" stroke="#111" stroke-width="0.95" stroke-dasharray="1,1"/>
<polyline points="33.54,308.20 36.10,308.20 43.80,249.55 51.49,190.90 59.19,225.32 66.88,262.94 74.58,275.69 82.27,289.07 89.97,299.91 97.66,291.62 113.05,304.38 128.44,307.56" fill="none" stroke="#111" stroke-width="0.95" stroke-dasharray="2,1"/>
<polyline points="33.54,308.20 36.10,308.20 43.80,252.10 51.49,197.91 59.19,237.44 66.88,268.68 74.58,282.70 82.27,290.35 89.97,294.18 97.66,292.90 113.05,303.10 128.44,306.93" fill="none" stroke="#111" stroke-width="0.95" stroke-dasharray="3,1,1,1"/>
<polyline points="33.54,308.20 36.10,308.20 43.80,254.01 51.49,194.72 59.19,244.45 66.88,271.23 74.58,285.25 82.27,289.07 89.97,291.62 97.66,294.18 113.05,301.82 128.44,305.65" fill="none" stroke="#111" stroke-width="0.95" stroke-dasharray="1.5,1"/>
<polyline points="33.54,308.20 36.10,308.20 43.80,250.82 51.49,222.77 59.19,246.36 66.88,276.32 74.58,286.52 82.27,290.35 89.97,293.54 97.66,296.72 113.05,300.55 128.44,306.29" fill="none" stroke="#111" stroke-width="0.95" stroke-dasharray="2.5,1"/>
<polyline points="33.54,308.20 36.10,308.20 43.80,247.64 51.49,213.85 59.19,256.56 66.88,278.88 74.58,289.71 82.27,290.99 89.97,292.90 97.66,299.91 113.05,298.64 128.44,306.93" fill="none" stroke="#111" stroke-width="0.95" />
<line x1="51.49" y1="182.61" x2="51.49" y2="168.59" stroke="#111" stroke-width="0.7" />
<line x1="49.29" y1="168.59" x2="53.69" y2="168.59" stroke="#111" stroke-width="0.7" />
<line x1="59.19" y1="211.94" x2="59.19" y2="200.46" stroke="#111" stroke-width="0.7" />
<line x1="56.98" y1="200.46" x2="61.39" y2="200.46" stroke="#111" stroke-width="0.7" />
<line x1="74.58" y1="273.14" x2="74.58" y2="266.76" stroke="#111" stroke-width="0.7" />
<line x1="72.38" y1="266.76" x2="76.78" y2="266.76" stroke="#111" stroke-width="0.7" />
<line x1="82.27" y1="285.89" x2="82.27" y2="280.79" stroke="#111" stroke-width="0.7" />
<line x1="80.07" y1="280.79" x2="84.47" y2="280.79" stroke="#111" stroke-width="0.7" />
<line x1="89.97" y1="291.62" x2="89.97" y2="286.52" stroke="#111" stroke-width="0.7" />
<line x1="87.77" y1="286.52" x2="92.17" y2="286.52" stroke="#111" stroke-width="0.7" />
<line x1="97.66" y1="291.62" x2="97.66" y2="286.52" stroke="#111" stroke-width="0.7" />
<line x1="95.46" y1="286.52" x2="99.86" y2="286.52" stroke="#111" stroke-width="0.7" />
<line x1="113.05" y1="298.64" x2="113.05" y2="294.81" stroke="#111" stroke-width="0.7" />
<line x1="110.85" y1="294.81" x2="115.25" y2="294.81" stroke="#111" stroke-width="0.7" />
<line x1="43.80" y1="254.01" x2="43.80" y2="261.66" stroke="#111" stroke-width="0.7" />
<line x1="41.59" y1="261.66" x2="46.00" y2="261.66" stroke="#111" stroke-width="0.7" />
<line x1="51.49" y1="222.77" x2="51.49" y2="235.52" stroke="#111" stroke-width="0.7" />
<line x1="49.29" y1="235.52" x2="53.69" y2="235.52" stroke="#111" stroke-width="0.7" />
<line x1="66.88" y1="278.88" x2="66.88" y2="285.25" stroke="#111" stroke-width="0.7" />
<line x1="64.68" y1="285.25" x2="69.08" y2="285.25" stroke="#111" stroke-width="0.7" />
<line x1="74.58" y1="289.71" x2="74.58" y2="294.81" stroke="#111" stroke-width="0.7" />
<line x1="72.38" y1="294.81" x2="76.78" y2="294.81" stroke="#111" stroke-width="0.7" />
<line x1="89.97" y1="299.91" x2="89.97" y2="303.74" stroke="#111" stroke-width="0.7" />
<line x1="87.77" y1="303.74" x2="92.17" y2="303.74" stroke="#111" stroke-width="0.7" />
<circle cx="33.54" cy="308.20" r="2.85" fill="#111111" stroke="#111" stroke-width="0.75"/>
<circle cx="36.10" cy="308.20" r="2.85" fill="#111111" stroke="#111" stroke-width="0.75"/>
<circle cx="43.80" cy="250.82" r="2.85" fill="#111111" stroke="#111" stroke-width="0.75"/>
<circle cx="51.49" cy="182.61" r="2.85" fill="#111111" stroke="#111" stroke-width="0.75"/>
<circle cx="59.19" cy="211.94" r="2.85" fill="#111111" stroke="#111" stroke-width="0.75"/>
<circle cx="66.88" cy="252.74" r="2.85" fill="#111111" stroke="#111" stroke-width="0.75"/>
<circle cx="74.58" cy="273.14" r="2.85" fill="#111111" stroke="#111" stroke-width="0.75"/>
<circle cx="82.27" cy="285.89" r="2.85" fill="#111111" stroke="#111" stroke-width="0.75"/>
<circle cx="89.97" cy="292.26" r="2.85" fill="#111111" stroke="#111" stroke-width="0.75"/>
<circle cx="97.66" cy="294.18" r="2.85" fill="#111111" stroke="#111" stroke-width="0.75"/>
<circle cx="113.05" cy="302.46" r="2.85" fill="#111111" stroke="#111" stroke-width="0.75"/>
<circle cx="128.44" cy="305.01" r="2.85" fill="#111111" stroke="#111" stroke-width="0.75"/>
<circle cx="33.54" cy="308.20" r="2.85" fill="#555555" stroke="#111" stroke-width="0.75"/>
<circle cx="36.10" cy="308.20" r="2.85" fill="#555555" stroke="#111" stroke-width="0.75"/>
<circle cx="43.80" cy="249.55" r="2.85" fill="#555555" stroke="#111" stroke-width="0.75"/>
<circle cx="51.49" cy="190.90" r="2.85" fill="#555555" stroke="#111" stroke-width="0.75"/>
<circle cx="59.19" cy="225.32" r="2.85" fill="#555555" stroke="#111" stroke-width="0.75"/>
<circle cx="66.88" cy="262.94" r="2.85" fill="#555555" stroke="#111" stroke-width="0.75"/>
<circle cx="74.58" cy="275.69" r="2.85" fill="#555555" stroke="#111" stroke-width="0.75"/>
<circle cx="82.27" cy="289.07" r="2.85" fill="#555555" stroke="#111" stroke-width="0.75"/>
<circle cx="89.97" cy="299.91" r="2.85" fill="#555555" stroke="#111" stroke-width="0.75"/>
<circle cx="97.66" cy="291.62" r="2.85" fill="#555555" stroke="#111" stroke-width="0.75"/>
<circle cx="113.05" cy="304.38" r="2.85" fill="#555555" stroke="#111" stroke-width="0.75"/>
<circle cx="128.44" cy="307.56" r="2.85" fill="#555555" stroke="#111" stroke-width="0.75"/>
<circle cx="33.54" cy="308.20" r="2.85" fill="#808080" stroke="#111" stroke-width="0.75"/>
<circle cx="36.10" cy="308.20" r="2.85" fill="#808080" stroke="#111" stroke-width="0.75"/>
<circle cx="43.80" cy="252.10" r="2.85" fill="#808080" stroke="#111" stroke-width="0.75"/>
<circle cx="51.49" cy="197.91" r="2.85" fill="#808080" stroke="#111" stroke-width="0.75"/>
<circle cx="59.19" cy="237.44" r="2.85" fill="#808080" stroke="#111" stroke-width="0.75"/>
<circle cx="66.88" cy="268.68" r="2.85" fill="#808080" stroke="#111" stroke-width="0.75"/>
<circle cx="74.58" cy="282.70" r="2.85" fill="#808080" stroke="#111" stroke-width="0.75"/>
<circle cx="82.27" cy="290.35" r="2.85" fill="#808080" stroke="#111" stroke-width="0.75"/>
<circle cx="89.97" cy="294.18" r="2.85" fill="#808080" stroke="#111" stroke-width="0.75"/>
<circle cx="97.66" cy="292.90" r="2.85" fill="#808080" stroke="#111" stroke-width="0.75"/>
<circle cx="113.05" cy="303.10" r="2.85" fill="#808080" stroke="#111" stroke-width="0.75"/>
<circle cx="128.44" cy="306.93" r="2.85" fill="#808080" stroke="#111" stroke-width="0.75"/>
<circle cx="33.54" cy="308.20" r="2.85" fill="#a0a0a0" stroke="#111" stroke-width="0.75"/>
<circle cx="36.10" cy="308.20" r="2.85" fill="#a0a0a0" stroke="#111" stroke-width="0.75"/>
<circle cx="43.80" cy="254.01" r="2.85" fill="#a0a0a0" stroke="#111" stroke-width="0.75"/>
<circle cx="51.49" cy="194.72" r="2.85" fill="#a0a0a0" stroke="#111" stroke-width="0.75"/>
<circle cx="59.19" cy="244.45" r="2.85" fill="#a0a0a0" stroke="#111" stroke-width="0.75"/>
<circle cx="66.88" cy="271.23" r="2.85" fill="#a0a0a0" stroke="#111" stroke-width="0.75"/>
<circle cx="74.58" cy="285.25" r="2.85" fill="#a0a0a0" stroke="#111" stroke-width="0.75"/>
<circle cx="82.27" cy="289.07" r="2.85" fill="#a0a0a0" stroke="#111" stroke-width="0.75"/>
<circle cx="89.97" cy="291.62" r="2.85" fill="#a0a0a0" stroke="#111" stroke-width="0.75"/>
<circle cx="97.66" cy="294.18" r="2.85" fill="#a0a0a0" stroke="#111" stroke-width="0.75"/>
<circle cx="113.05" cy="301.82" r="2.85" fill="#a0a0a0" stroke="#111" stroke-width="0.75"/>
<circle cx="128.44" cy="305.65" r="2.85" fill="#a0a0a0" stroke="#111" stroke-width="0.75"/>
<circle cx="33.54" cy="308.20" r="2.85" fill="#cfcfcf" stroke="#111" stroke-width="0.75"/>
<circle cx="36.10" cy="308.20" r="2.85" fill="#cfcfcf" stroke="#111" stroke-width="0.75"/>
<circle cx="43.80" cy="250.82" r="2.85" fill="#cfcfcf" stroke="#111" stroke-width="0.75"/>
<circle cx="51.49" cy="222.77" r="2.85" fill="#cfcfcf" stroke="#111" stroke-width="0.75"/>
<circle cx="59.19" cy="246.36" r="2.85" fill="#cfcfcf" stroke="#111" stroke-width="0.75"/>
<circle cx="66.88" cy="276.32" r="2.85" fill="#cfcfcf" stroke="#111" stroke-width="0.75"/>
<circle cx="74.58" cy="286.52" r="2.85" fill="#cfcfcf" stroke="#111" stroke-width="0.75"/>
<circle cx="82.27" cy="290.35" r="2.85" fill="#cfcfcf" stroke="#111" stroke-width="0.75"/>
<circle cx="89.97" cy="293.54" r="2.85" fill="#cfcfcf" stroke="#111" stroke-width="0.75"/>
<circle cx="97.66" cy="296.72" r="2.85" fill="#cfcfcf" stroke="#111" stroke-width="0.75"/>
<circle cx="113.05" cy="300.55" r="2.85" fill="#cfcfcf" stroke="#111" stroke-width="0.75"/>
<circle cx="128.44" cy="306.29" r="2.85" fill="#cfcfcf" stroke="#111" stroke-width="0.75"/>
<circle cx="33.54" cy="308.20" r="2.85" fill="#ffffff" stroke="#111" stroke-width="0.75"/>
<circle cx="36.10" cy="308.20" r="2.85" fill="#ffffff" stroke="#111" stroke-width="0.75"/>
<circle cx="43.80" cy="247.64" r="2.85" fill="#ffffff" stroke="#111" stroke-width="0.75"/>
<circle cx="51.49" cy="213.85" r="2.85" fill="#ffffff" stroke="#111" stroke-width="0.75"/>
<circle cx="59.19" cy="256.56" r="2.85" fill="#ffffff" stroke="#111" stroke-width="0.75"/>
<circle cx="66.88" cy="278.88" r="2.85" fill="#ffffff" stroke="#111" stroke-width="0.75"/>
<circle cx="74.58" cy="289.71" r="2.85" fill="#ffffff" stroke="#111" stroke-width="0.75"/>
<circle cx="82.27" cy="290.99" r="2.85" fill="#ffffff" stroke="#111" stroke-width="0.75"/>
<circle cx="89.97" cy="292.90" r="2.85" fill="#ffffff" stroke="#111" stroke-width="0.75"/>
<circle cx="97.66" cy="299.91" r="2.85" fill="#ffffff" stroke="#111" stroke-width="0.75"/>
<circle cx="113.05" cy="298.64" r="2.85" fill="#ffffff" stroke="#111" stroke-width="0.75"/>
<circle cx="128.44" cy="306.93" r="2.85" fill="#ffffff" stroke="#111" stroke-width="0.75"/>
<text x="51.5" y="314.5" font-size="6.5" text-anchor="middle" fill="#111" >d</text>
<text x="59.2" y="314.5" font-size="6.5" text-anchor="middle" fill="#111" >d</text>
<text x="66.9" y="314.5" font-size="6.5" text-anchor="middle" fill="#111" >d</text>
<text x="74.6" y="314.5" font-size="6.5" text-anchor="middle" fill="#111" >d</text>
<polyline points="139.74,308.20 142.30,308.20 150.00,250.19 157.69,178.79 165.39,204.29 173.08,237.44 180.78,260.39 188.47,278.88 196.17,287.16 203.86,294.18 219.25,303.74 234.64,308.84" fill="none" stroke="#111" stroke-width="0.95" />
<polyline points="139.74,308.20 142.30,308.20 150.00,252.10 157.69,204.29 165.39,217.04 173.08,248.91 180.78,272.50 188.47,285.25 196.17,294.18 203.86,299.91 219.25,303.74 234.64,308.84" fill="none" stroke="#111" stroke-width="0.95" stroke-dasharray="2,1"/>
<line x1="157.69" y1="178.79" x2="157.69" y2="169.22" stroke="#111" stroke-width="0.7" />
<line x1="155.49" y1="169.22" x2="159.89" y2="169.22" stroke="#111" stroke-width="0.7" />
<line x1="165.39" y1="204.29" x2="165.39" y2="197.91" stroke="#111" stroke-width="0.7" />
<line x1="163.19" y1="197.91" x2="167.59" y2="197.91" stroke="#111" stroke-width="0.7" />
<line x1="173.08" y1="237.44" x2="173.08" y2="232.34" stroke="#111" stroke-width="0.7" />
<line x1="170.88" y1="232.34" x2="175.28" y2="232.34" stroke="#111" stroke-width="0.7" />
<line x1="180.78" y1="260.39" x2="180.78" y2="255.29" stroke="#111" stroke-width="0.7" />
<line x1="178.58" y1="255.29" x2="182.97" y2="255.29" stroke="#111" stroke-width="0.7" />
<line x1="150.00" y1="252.10" x2="150.00" y2="258.48" stroke="#111" stroke-width="0.7" />
<line x1="147.80" y1="258.48" x2="152.19" y2="258.48" stroke="#111" stroke-width="0.7" />
<line x1="157.69" y1="204.29" x2="157.69" y2="210.66" stroke="#111" stroke-width="0.7" />
<line x1="155.49" y1="210.66" x2="159.89" y2="210.66" stroke="#111" stroke-width="0.7" />
<line x1="173.08" y1="248.91" x2="173.08" y2="254.01" stroke="#111" stroke-width="0.7" />
<line x1="170.88" y1="254.01" x2="175.28" y2="254.01" stroke="#111" stroke-width="0.7" />
<line x1="180.78" y1="272.50" x2="180.78" y2="277.60" stroke="#111" stroke-width="0.7" />
<line x1="178.58" y1="277.60" x2="182.97" y2="277.60" stroke="#111" stroke-width="0.7" />
<circle cx="139.74" cy="308.20" r="2.85" fill="#111" stroke="#111" stroke-width="0.75"/>
<circle cx="142.30" cy="308.20" r="2.85" fill="#111" stroke="#111" stroke-width="0.75"/>
<circle cx="150.00" cy="250.19" r="2.85" fill="#111" stroke="#111" stroke-width="0.75"/>
<circle cx="157.69" cy="178.79" r="2.85" fill="#111" stroke="#111" stroke-width="0.75"/>
<circle cx="165.39" cy="204.29" r="2.85" fill="#111" stroke="#111" stroke-width="0.75"/>
<circle cx="173.08" cy="237.44" r="2.85" fill="#111" stroke="#111" stroke-width="0.75"/>
<circle cx="180.78" cy="260.39" r="2.85" fill="#111" stroke="#111" stroke-width="0.75"/>
<circle cx="188.47" cy="278.88" r="2.85" fill="#111" stroke="#111" stroke-width="0.75"/>
<circle cx="196.17" cy="287.16" r="2.85" fill="#111" stroke="#111" stroke-width="0.75"/>
<circle cx="203.86" cy="294.18" r="2.85" fill="#111" stroke="#111" stroke-width="0.75"/>
<circle cx="219.25" cy="303.74" r="2.85" fill="#111" stroke="#111" stroke-width="0.75"/>
<circle cx="234.64" cy="308.84" r="2.85" fill="#111" stroke="#111" stroke-width="0.75"/>
<circle cx="139.74" cy="308.20" r="2.85" fill="#fff" stroke="#111" stroke-width="0.75"/>
<circle cx="142.30" cy="308.20" r="2.85" fill="#fff" stroke="#111" stroke-width="0.75"/>
<circle cx="150.00" cy="252.10" r="2.85" fill="#fff" stroke="#111" stroke-width="0.75"/>
<circle cx="157.69" cy="204.29" r="2.85" fill="#fff" stroke="#111" stroke-width="0.75"/>
<circle cx="165.39" cy="217.04" r="2.85" fill="#fff" stroke="#111" stroke-width="0.75"/>
<circle cx="173.08" cy="248.91" r="2.85" fill="#fff" stroke="#111" stroke-width="0.75"/>
<circle cx="180.78" cy="272.50" r="2.85" fill="#fff" stroke="#111" stroke-width="0.75"/>
<circle cx="188.47" cy="285.25" r="2.85" fill="#fff" stroke="#111" stroke-width="0.75"/>
<circle cx="196.17" cy="294.18" r="2.85" fill="#fff" stroke="#111" stroke-width="0.75"/>
<circle cx="203.86" cy="299.91" r="2.85" fill="#fff" stroke="#111" stroke-width="0.75"/>
<circle cx="219.25" cy="303.74" r="2.85" fill="#fff" stroke="#111" stroke-width="0.75"/>
<circle cx="234.64" cy="308.84" r="2.85" fill="#fff" stroke="#111" stroke-width="0.75"/>
<text x="157.7" y="314.5" font-size="6.5" text-anchor="middle" fill="#111" >e</text>
<text x="165.4" y="314.5" font-size="6.5" text-anchor="middle" fill="#111" >e</text>
<text x="173.1" y="314.5" font-size="6.5" text-anchor="middle" fill="#111" >e</text>
<text x="180.8" y="314.5" font-size="6.5" text-anchor="middle" fill="#111" >e</text>
<text x="188.5" y="314.5" font-size="6.5" text-anchor="middle" fill="#111" >e</text>
<text x="196.2" y="314.5" font-size="6.5" text-anchor="middle" fill="#111" >e</text>
<text x="203.9" y="314.5" font-size="6.5" text-anchor="middle" fill="#111" >e</text>
<polyline points="245.94,308.20 248.50,308.20 256.19,266.12 263.89,217.68 271.58,231.70 279.28,253.38 286.98,268.68 294.67,286.52 302.37,295.45 310.06,297.36 325.45,302.46 340.84,308.20" fill="none" stroke="#111" stroke-width="0.95" />
<polyline points="245.94,308.20 248.50,308.20 256.19,257.84 263.89,179.43 271.58,196.00 279.28,241.26 286.98,263.57 294.67,282.70 302.37,294.18 310.06,298.00 325.45,302.46 340.84,307.56" fill="none" stroke="#111" stroke-width="0.95" stroke-dasharray="3,1"/>
<polyline points="245.94,308.20 248.50,308.20 256.19,234.89 263.89,178.15 271.58,206.84 279.28,238.71 286.98,261.02 294.67,281.43 302.37,292.90 310.06,296.72 325.45,302.46 340.84,308.20" fill="none" stroke="#111" stroke-width="0.95" stroke-dasharray="1.5,1"/>
<line x1="263.89" y1="178.15" x2="263.89" y2="165.40" stroke="#111" stroke-width="0.7" />
<line x1="261.69" y1="165.40" x2="266.09" y2="165.40" stroke="#111" stroke-width="0.7" />
<line x1="271.58" y1="196.00" x2="271.58" y2="189.62" stroke="#111" stroke-width="0.7" />
<line x1="269.38" y1="189.62" x2="273.78" y2="189.62" stroke="#111" stroke-width="0.7" />
<line x1="279.28" y1="238.71" x2="279.28" y2="229.79" stroke="#111" stroke-width="0.7" />
<line x1="277.08" y1="229.79" x2="281.48" y2="229.79" stroke="#111" stroke-width="0.7" />
<line x1="286.98" y1="261.02" x2="286.98" y2="253.38" stroke="#111" stroke-width="0.7" />
<line x1="284.78" y1="253.38" x2="289.18" y2="253.38" stroke="#111" stroke-width="0.7" />
<line x1="294.67" y1="281.43" x2="294.67" y2="275.05" stroke="#111" stroke-width="0.7" />
<line x1="292.47" y1="275.05" x2="296.87" y2="275.05" stroke="#111" stroke-width="0.7" />
<line x1="302.37" y1="292.90" x2="302.37" y2="289.07" stroke="#111" stroke-width="0.7" />
<line x1="300.17" y1="289.07" x2="304.56" y2="289.07" stroke="#111" stroke-width="0.7" />
<line x1="325.45" y1="302.46" x2="325.45" y2="298.64" stroke="#111" stroke-width="0.7" />
<line x1="323.25" y1="298.64" x2="327.65" y2="298.64" stroke="#111" stroke-width="0.7" />
<line x1="256.19" y1="234.89" x2="256.19" y2="221.50" stroke="#111" stroke-width="0.7" />
<line x1="254.00" y1="221.50" x2="258.39" y2="221.50" stroke="#111" stroke-width="0.7" />
<line x1="263.89" y1="217.68" x2="263.89" y2="211.30" stroke="#111" stroke-width="0.7" />
<line x1="261.69" y1="211.30" x2="266.09" y2="211.30" stroke="#111" stroke-width="0.7" />
<line x1="271.58" y1="231.70" x2="271.58" y2="225.32" stroke="#111" stroke-width="0.7" />
<line x1="269.38" y1="225.32" x2="273.78" y2="225.32" stroke="#111" stroke-width="0.7" />
<line x1="279.28" y1="253.38" x2="279.28" y2="245.72" stroke="#111" stroke-width="0.7" />
<line x1="277.08" y1="245.72" x2="281.48" y2="245.72" stroke="#111" stroke-width="0.7" />
<line x1="256.19" y1="257.84" x2="256.19" y2="250.19" stroke="#111" stroke-width="0.7" />
<line x1="254.00" y1="250.19" x2="258.39" y2="250.19" stroke="#111" stroke-width="0.7" />
<line x1="256.19" y1="266.12" x2="256.19" y2="272.50" stroke="#111" stroke-width="0.7" />
<line x1="254.00" y1="272.50" x2="258.39" y2="272.50" stroke="#111" stroke-width="0.7" />
<line x1="263.89" y1="217.68" x2="263.89" y2="226.60" stroke="#111" stroke-width="0.7" />
<line x1="261.69" y1="226.60" x2="266.09" y2="226.60" stroke="#111" stroke-width="0.7" />
<line x1="271.58" y1="206.84" x2="271.58" y2="218.31" stroke="#111" stroke-width="0.7" />
<line x1="269.38" y1="218.31" x2="273.78" y2="218.31" stroke="#111" stroke-width="0.7" />
<line x1="279.28" y1="253.38" x2="279.28" y2="261.02" stroke="#111" stroke-width="0.7" />
<line x1="277.08" y1="261.02" x2="281.48" y2="261.02" stroke="#111" stroke-width="0.7" />
<line x1="286.98" y1="268.68" x2="286.98" y2="275.05" stroke="#111" stroke-width="0.7" />
<line x1="284.78" y1="275.05" x2="289.18" y2="275.05" stroke="#111" stroke-width="0.7" />
<line x1="294.67" y1="286.52" x2="294.67" y2="291.62" stroke="#111" stroke-width="0.7" />
<line x1="292.47" y1="291.62" x2="296.87" y2="291.62" stroke="#111" stroke-width="0.7" />
<line x1="256.19" y1="234.89" x2="256.19" y2="247.64" stroke="#111" stroke-width="0.7" />
<line x1="254.00" y1="247.64" x2="258.39" y2="247.64" stroke="#111" stroke-width="0.7" />
<line x1="263.89" y1="178.15" x2="263.89" y2="187.07" stroke="#111" stroke-width="0.7" />
<line x1="261.69" y1="187.07" x2="266.09" y2="187.07" stroke="#111" stroke-width="0.7" />
<line x1="279.28" y1="238.71" x2="279.28" y2="247.64" stroke="#111" stroke-width="0.7" />
<line x1="277.08" y1="247.64" x2="281.48" y2="247.64" stroke="#111" stroke-width="0.7" />
<polygon points="245.94,304.90 249.24,310.84 242.63,310.84" fill="#111" stroke="#111" stroke-width="0.75"/>
<polygon points="248.50,304.90 251.80,310.84 245.20,310.84" fill="#111" stroke="#111" stroke-width="0.75"/>
<polygon points="256.19,262.82 259.50,268.76 252.89,268.76" fill="#111" stroke="#111" stroke-width="0.75"/>
<polygon points="263.89,214.38 267.19,220.31 260.59,220.31" fill="#111" stroke="#111" stroke-width="0.75"/>
<polygon points="271.58,228.40 274.88,234.34 268.28,234.34" fill="#111" stroke="#111" stroke-width="0.75"/>
<polygon points="279.28,250.07 282.58,256.01 275.98,256.01" fill="#111" stroke="#111" stroke-width="0.75"/>
<polygon points="286.98,265.38 290.28,271.31 283.68,271.31" fill="#111" stroke="#111" stroke-width="0.75"/>
<polygon points="294.67,283.22 297.97,289.16 291.37,289.16" fill="#111" stroke="#111" stroke-width="0.75"/>
<polygon points="302.37,292.15 305.67,298.09 299.06,298.09" fill="#111" stroke="#111" stroke-width="0.75"/>
<polygon points="310.06,294.06 313.36,300.00 306.76,300.00" fill="#111" stroke="#111" stroke-width="0.75"/>
<polygon points="325.45,299.16 328.75,305.10 322.15,305.10" fill="#111" stroke="#111" stroke-width="0.75"/>
<polygon points="340.84,304.90 344.14,310.84 337.54,310.84" fill="#111" stroke="#111" stroke-width="0.75"/>
<polygon points="245.94,304.90 249.24,310.84 242.63,310.84" fill="#999" stroke="#111" stroke-width="0.75"/>
<polygon points="248.50,304.90 251.80,310.84 245.20,310.84" fill="#999" stroke="#111" stroke-width="0.75"/>
<polygon points="256.19,254.54 259.50,260.48 252.89,260.48" fill="#999" stroke="#111" stroke-width="0.75"/>
<polygon points="263.89,176.12 267.19,182.06 260.59,182.06" fill="#999" stroke="#111" stroke-width="0.75"/>
<polygon points="271.58,192.70 274.88,198.64 268.28,198.64" fill="#999" stroke="#111" stroke-width="0.75"/>
<polygon points="279.28,237.96 282.58,243.90 275.98,243.90" fill="#999" stroke="#111" stroke-width="0.75"/>
<polygon points="286.98,260.27 290.28,266.21 283.68,266.21" fill="#999" stroke="#111" stroke-width="0.75"/>
<polygon points="294.67,279.40 297.97,285.34 291.37,285.34" fill="#999" stroke="#111" stroke-width="0.75"/>
<polygon points="302.37,290.88 305.67,296.81 299.06,296.81" fill="#999" stroke="#111" stroke-width="0.75"/>
<polygon points="310.06,294.70 313.36,300.64 306.76,300.64" fill="#999" stroke="#111" stroke-width="0.75"/>
<polygon points="325.45,299.16 328.75,305.10 322.15,305.10" fill="#999" stroke="#111" stroke-width="0.75"/>
<polygon points="340.84,304.26 344.14,310.20 337.54,310.20" fill="#999" stroke="#111" stroke-width="0.75"/>
<polygon points="245.94,304.90 249.24,310.84 242.63,310.84" fill="#fff" stroke="#111" stroke-width="0.75"/>
<polygon points="248.50,304.90 251.80,310.84 245.20,310.84" fill="#fff" stroke="#111" stroke-width="0.75"/>
<polygon points="256.19,231.59 259.50,237.53 252.89,237.53" fill="#fff" stroke="#111" stroke-width="0.75"/>
<polygon points="263.89,174.85 267.19,180.79 260.59,180.79" fill="#fff" stroke="#111" stroke-width="0.75"/>
<polygon points="271.58,203.54 274.88,209.48 268.28,209.48" fill="#fff" stroke="#111" stroke-width="0.75"/>
<polygon points="279.28,235.41 282.58,241.35 275.98,241.35" fill="#fff" stroke="#111" stroke-width="0.75"/>
<polygon points="286.98,257.72 290.28,263.66 283.68,263.66" fill="#fff" stroke="#111" stroke-width="0.75"/>
<polygon points="294.67,278.12 297.97,284.06 291.37,284.06" fill="#fff" stroke="#111" stroke-width="0.75"/>
<polygon points="302.37,289.60 305.67,295.54 299.06,295.54" fill="#fff" stroke="#111" stroke-width="0.75"/>
<polygon points="310.06,293.42 313.36,299.36 306.76,299.36" fill="#fff" stroke="#111" stroke-width="0.75"/>
<polygon points="325.45,299.16 328.75,305.10 322.15,305.10" fill="#fff" stroke="#111" stroke-width="0.75"/>
<polygon points="340.84,304.90 344.14,310.84 337.54,310.84" fill="#fff" stroke="#111" stroke-width="0.75"/>
<text x="256.2" y="314.0" font-size="6.5" text-anchor="middle" fill="#111" >f</text>
<text x="263.9" y="314.0" font-size="6.5" text-anchor="middle" fill="#111" >f</text>
<text x="271.6" y="314.0" font-size="6.5" text-anchor="middle" fill="#111" >f</text>
<line x1="37.10" y1="5.40" x2="47.10" y2="5.40" stroke="#444" stroke-width="0.7" />
<circle cx="42.10" cy="5.40" r="2.3" fill="#fff" stroke="#111" stroke-width="0.7"/>
<text x="53.5" y="7.9" font-size="7.0" text-anchor="start" fill="#111" >C1</text>
<line x1="72.30" y1="5.40" x2="82.30" y2="5.40" stroke="#444" stroke-width="0.7" />
<circle cx="77.30" cy="5.40" r="2.3" fill="#cfcfcf" stroke="#111" stroke-width="0.7"/>
<text x="88.7" y="7.9" font-size="7.0" text-anchor="start" fill="#111" >C2</text>
<line x1="107.40" y1="5.40" x2="117.40" y2="5.40" stroke="#444" stroke-width="0.7" />
<circle cx="112.40" cy="5.40" r="2.3" fill="#808080" stroke="#111" stroke-width="0.7"/>
<text x="123.8" y="7.9" font-size="7.0" text-anchor="start" fill="#111" >C3</text>
<line x1="37.10" y1="14.40" x2="47.10" y2="14.40" stroke="#444" stroke-width="0.7" />
<circle cx="42.10" cy="14.40" r="2.3" fill="#707070" stroke="#111" stroke-width="0.7"/>
<text x="53.5" y="16.9" font-size="7.0" text-anchor="start" fill="#111" >C4</text>
<line x1="72.30" y1="14.40" x2="82.30" y2="14.40" stroke="#444" stroke-width="0.7" />
<circle cx="77.30" cy="14.40" r="2.3" fill="#555" stroke="#111" stroke-width="0.7"/>
<text x="88.7" y="16.9" font-size="7.0" text-anchor="start" fill="#111" >C5</text>
<line x1="107.40" y1="14.40" x2="117.40" y2="14.40" stroke="#444" stroke-width="0.7" />
<circle cx="112.40" cy="14.40" r="2.3" fill="#111" stroke="#111" stroke-width="0.7"/>
<text x="123.8" y="16.9" font-size="7.0" text-anchor="start" fill="#111" >C6</text>
<line x1="143.00" y1="5.00" x2="153.00" y2="5.00" stroke="#444" stroke-width="0.7" />
<circle cx="148.00" cy="5.00" r="2.3" fill="#111" stroke="#111" stroke-width="0.7"/>
<text x="160.0" y="7.5" font-size="7.0" text-anchor="start" fill="#111" >Control Granola</text>
<line x1="143.00" y1="13.60" x2="153.00" y2="13.60" stroke="#444" stroke-width="0.7" />
<circle cx="148.00" cy="13.60" r="2.3" fill="#fff" stroke="#111" stroke-width="0.7"/>
<text x="160.0" y="16.1" font-size="7.0" text-anchor="start" fill="#111" >Test Granola</text>
<line x1="252.30" y1="5.30" x2="262.30" y2="5.30" stroke="#444" stroke-width="0.7" />
<polygon points="257.30,2.50 260.10,7.54 254.50,7.54" fill="#111" stroke="#111" stroke-width="0.7"/>
<text x="265.8" y="7.8" font-size="7.0" text-anchor="start" fill="#111" >Study 1</text>
<line x1="297.90" y1="5.30" x2="307.90" y2="5.30" stroke="#444" stroke-width="0.7" />
<polygon points="302.90,2.50 305.70,7.54 300.10,7.54" fill="#999" stroke="#111" stroke-width="0.7"/>
<text x="313.9" y="7.8" font-size="7.0" text-anchor="start" fill="#111" >Study 2</text>
<line x1="252.30" y1="14.60" x2="262.30" y2="14.60" stroke="#444" stroke-width="0.7" />
<polygon points="257.30,11.80 260.10,16.84 254.50,16.84" fill="#fff" stroke="#111" stroke-width="0.7"/>
<text x="265.8" y="17.1" font-size="7.0" text-anchor="start" fill="#111" >Study 3</text>
<text x="107.3" y="26.3" font-size="5.75" text-anchor="middle" fill="#111" >Relative Glucose</text>
<text x="107.3" y="32.7" font-size="5.75" text-anchor="middle" fill="#111" >Response (%)</text>
<line x1="80.80" y1="39.60" x2="80.80" y2="85.20" stroke="#333" stroke-width="0.6" />
<line x1="79.00" y1="85.20" x2="80.80" y2="85.20" stroke="#333" stroke-width="0.5" />
<text x="78.7" y="87.0" font-size="4.9" text-anchor="end" fill="#111" >0</text>
<line x1="79.00" y1="76.38" x2="80.80" y2="76.38" stroke="#333" stroke-width="0.5" />
<text x="78.7" y="78.1" font-size="4.9" text-anchor="end" fill="#111" >20</text>
<line x1="79.00" y1="67.56" x2="80.80" y2="67.56" stroke="#333" stroke-width="0.5" />
<text x="78.7" y="69.3" font-size="4.9" text-anchor="end" fill="#111" >40</text>
<line x1="79.00" y1="58.74" x2="80.80" y2="58.74" stroke="#333" stroke-width="0.5" />
<text x="78.7" y="60.5" font-size="4.9" text-anchor="end" fill="#111" >60</text>
<line x1="79.00" y1="49.92" x2="80.80" y2="49.92" stroke="#333" stroke-width="0.5" />
<text x="78.7" y="51.7" font-size="4.9" text-anchor="end" fill="#111" >80</text>
<line x1="79.00" y1="41.10" x2="80.80" y2="41.10" stroke="#333" stroke-width="0.5" />
<text x="78.7" y="42.9" font-size="4.9" text-anchor="end" fill="#111" >100</text>
<line x1="79.80" y1="83.00" x2="80.80" y2="83.00" stroke="#333" stroke-width="0.5" />
<line x1="79.80" y1="80.79" x2="80.80" y2="80.79" stroke="#333" stroke-width="0.5" />
<line x1="79.80" y1="78.59" x2="80.80" y2="78.59" stroke="#333" stroke-width="0.5" />
<line x1="79.80" y1="76.38" x2="80.80" y2="76.38" stroke="#333" stroke-width="0.5" />
<line x1="79.80" y1="74.17" x2="80.80" y2="74.17" stroke="#333" stroke-width="0.5" />
<line x1="79.80" y1="71.97" x2="80.80" y2="71.97" stroke="#333" stroke-width="0.5" />
<line x1="79.80" y1="69.77" x2="80.80" y2="69.77" stroke="#333" stroke-width="0.5" />
<line x1="79.80" y1="67.56" x2="80.80" y2="67.56" stroke="#333" stroke-width="0.5" />
<line x1="79.80" y1="65.36" x2="80.80" y2="65.36" stroke="#333" stroke-width="0.5" />
<line x1="79.80" y1="63.15" x2="80.80" y2="63.15" stroke="#333" stroke-width="0.5" />
<line x1="79.80" y1="60.95" x2="80.80" y2="60.95" stroke="#333" stroke-width="0.5" />
<line x1="79.80" y1="58.74" x2="80.80" y2="58.74" stroke="#333" stroke-width="0.5" />
<line x1="79.80" y1="56.54" x2="80.80" y2="56.54" stroke="#333" stroke-width="0.5" />
<line x1="79.80" y1="54.33" x2="80.80" y2="54.33" stroke="#333" stroke-width="0.5" />
<line x1="79.80" y1="52.12" x2="80.80" y2="52.12" stroke="#333" stroke-width="0.5" />
<line x1="79.80" y1="49.92" x2="80.80" y2="49.92" stroke="#333" stroke-width="0.5" />
<line x1="79.80" y1="47.72" x2="80.80" y2="47.72" stroke="#333" stroke-width="0.5" />
<line x1="79.80" y1="45.51" x2="80.80" y2="45.51" stroke="#333" stroke-width="0.5" />
<line x1="79.80" y1="43.30" x2="80.80" y2="43.30" stroke="#333" stroke-width="0.5" />
<line x1="79.80" y1="41.10" x2="80.80" y2="41.10" stroke="#333" stroke-width="0.5" />
<line x1="80.80" y1="85.20" x2="131.20" y2="85.20" stroke="#333" stroke-width="0.6" />
<rect x="82.00" y="49.92" width="8.10" height="35.28" fill="#ffffff" stroke="#111" stroke-width="0.6"/>
<line x1="86.05" y1="49.92" x2="86.05" y2="48.60" stroke="#111" stroke-width="0.5" />
<line x1="84.55" y1="48.60" x2="87.55" y2="48.60" stroke="#111" stroke-width="0.5" />
<line x1="86.05" y1="49.92" x2="86.05" y2="51.24" stroke="#111" stroke-width="0.5" />
<line x1="84.55" y1="51.24" x2="87.55" y2="51.24" stroke="#111" stroke-width="0.5" />
<text x="86.0" y="46.6" font-size="4.8" text-anchor="middle" fill="#111" >y</text>
<text x="86.0" y="93.2" font-size="5.6" text-anchor="middle" fill="#111" >C1</text>
<rect x="90.10" y="45.51" width="8.10" height="39.69" fill="#c8c8c8" stroke="#111" stroke-width="0.6"/>
<line x1="94.15" y1="45.51" x2="94.15" y2="44.19" stroke="#111" stroke-width="0.5" />
<line x1="92.65" y1="44.19" x2="95.65" y2="44.19" stroke="#111" stroke-width="0.5" />
<line x1="94.15" y1="45.51" x2="94.15" y2="46.83" stroke="#111" stroke-width="0.5" />
<line x1="92.65" y1="46.83" x2="95.65" y2="46.83" stroke="#111" stroke-width="0.5" />
<text x="94.1" y="42.2" font-size="4.8" text-anchor="middle" fill="#111" >xy</text>
<text x="94.1" y="93.2" font-size="5.6" text-anchor="middle" fill="#111" >C2</text>
<rect x="98.20" y="47.27" width="8.10" height="37.93" fill="#8c8c8c" stroke="#111" stroke-width="0.6"/>
<line x1="102.25" y1="47.27" x2="102.25" y2="45.95" stroke="#111" stroke-width="0.5" />
<line x1="100.75" y1="45.95" x2="103.75" y2="45.95" stroke="#111" stroke-width="0.5" />
<line x1="102.25" y1="47.27" x2="102.25" y2="48.60" stroke="#111" stroke-width="0.5" />
<line x1="100.75" y1="48.60" x2="103.75" y2="48.60" stroke="#111" stroke-width="0.5" />
<text x="102.2" y="44.0" font-size="4.8" text-anchor="middle" fill="#111" >xy</text>
<text x="102.2" y="93.2" font-size="5.6" text-anchor="middle" fill="#111" >C3</text>
<rect x="106.30" y="44.85" width="8.10" height="40.35" fill="#707070" stroke="#111" stroke-width="0.6"/>
<line x1="110.35" y1="44.85" x2="110.35" y2="43.53" stroke="#111" stroke-width="0.5" />
<line x1="108.85" y1="43.53" x2="111.85" y2="43.53" stroke="#111" stroke-width="0.5" />
<line x1="110.35" y1="44.85" x2="110.35" y2="46.17" stroke="#111" stroke-width="0.5" />
<line x1="108.85" y1="46.17" x2="111.85" y2="46.17" stroke="#111" stroke-width="0.5" />
<text x="110.3" y="41.5" font-size="4.8" text-anchor="middle" fill="#111" >xy</text>
<text x="110.3" y="93.2" font-size="5.6" text-anchor="middle" fill="#111" >C4</text>
<rect x="114.40" y="44.85" width="8.10" height="40.35" fill="#555555" stroke="#111" stroke-width="0.6"/>
<line x1="118.45" y1="44.85" x2="118.45" y2="43.53" stroke="#111" stroke-width="0.5" />
<line x1="116.95" y1="43.53" x2="119.95" y2="43.53" stroke="#111" stroke-width="0.5" />
<line x1="118.45" y1="44.85" x2="118.45" y2="46.17" stroke="#111" stroke-width="0.5" />
<line x1="116.95" y1="46.17" x2="119.95" y2="46.17" stroke="#111" stroke-width="0.5" />
<text x="118.5" y="41.5" font-size="4.8" text-anchor="middle" fill="#111" >xy</text>
<text x="118.5" y="93.2" font-size="5.6" text-anchor="middle" fill="#111" >C5</text>
<rect x="122.50" y="41.10" width="8.10" height="44.10" fill="#262626" stroke="#111" stroke-width="0.6"/>
<line x1="126.55" y1="41.10" x2="126.55" y2="39.78" stroke="#111" stroke-width="0.5" />
<line x1="125.05" y1="39.78" x2="128.05" y2="39.78" stroke="#111" stroke-width="0.5" />
<line x1="126.55" y1="41.10" x2="126.55" y2="42.42" stroke="#111" stroke-width="0.5" />
<line x1="125.05" y1="42.42" x2="128.05" y2="42.42" stroke="#111" stroke-width="0.5" />
<text x="126.5" y="37.8" font-size="4.8" text-anchor="middle" fill="#111" >x</text>
<text x="126.5" y="93.2" font-size="5.6" text-anchor="middle" fill="#111" >C6</text>
<text x="107.0" y="99.6" font-size="6.8" text-anchor="middle" fill="#111" >Chew</text>
<text x="107.3" y="172.5" font-size="5.75" text-anchor="middle" fill="#111" >Relative Insulin</text>
<text x="107.3" y="178.9" font-size="5.75" text-anchor="middle" fill="#111" >Response (%)</text>
<line x1="80.40" y1="186.30" x2="80.40" y2="232.00" stroke="#333" stroke-width="0.6" />
<line x1="78.60" y1="232.00" x2="80.40" y2="232.00" stroke="#333" stroke-width="0.5" />
<text x="78.3" y="233.8" font-size="4.9" text-anchor="end" fill="#111" >0</text>
<line x1="78.60" y1="223.16" x2="80.40" y2="223.16" stroke="#333" stroke-width="0.5" />
<text x="78.3" y="224.9" font-size="4.9" text-anchor="end" fill="#111" >20</text>
<line x1="78.60" y1="214.32" x2="80.40" y2="214.32" stroke="#333" stroke-width="0.5" />
<text x="78.3" y="216.1" font-size="4.9" text-anchor="end" fill="#111" >40</text>
<line x1="78.60" y1="205.48" x2="80.40" y2="205.48" stroke="#333" stroke-width="0.5" />
<text x="78.3" y="207.2" font-size="4.9" text-anchor="end" fill="#111" >60</text>
<line x1="78.60" y1="196.64" x2="80.40" y2="196.64" stroke="#333" stroke-width="0.5" />
<text x="78.3" y="198.4" font-size="4.9" text-anchor="end" fill="#111" >80</text>
<line x1="78.60" y1="187.80" x2="80.40" y2="187.80" stroke="#333" stroke-width="0.5" />
<text x="78.3" y="189.6" font-size="4.9" text-anchor="end" fill="#111" >100</text>
<line x1="79.40" y1="229.79" x2="80.40" y2="229.79" stroke="#333" stroke-width="0.5" />
<line x1="79.40" y1="227.58" x2="80.40" y2="227.58" stroke="#333" stroke-width="0.5" />
<line x1="79.40" y1="225.37" x2="80.40" y2="225.37" stroke="#333" stroke-width="0.5" />
<line x1="79.40" y1="223.16" x2="80.40" y2="223.16" stroke="#333" stroke-width="0.5" />
<line x1="79.40" y1="220.95" x2="80.40" y2="220.95" stroke="#333" stroke-width="0.5" />
<line x1="79.40" y1="218.74" x2="80.40" y2="218.74" stroke="#333" stroke-width="0.5" />
<line x1="79.40" y1="216.53" x2="80.40" y2="216.53" stroke="#333" stroke-width="0.5" />
<line x1="79.40" y1="214.32" x2="80.40" y2="214.32" stroke="#333" stroke-width="0.5" />
<line x1="79.40" y1="212.11" x2="80.40" y2="212.11" stroke="#333" stroke-width="0.5" />
<line x1="79.40" y1="209.90" x2="80.40" y2="209.90" stroke="#333" stroke-width="0.5" />
<line x1="79.40" y1="207.69" x2="80.40" y2="207.69" stroke="#333" stroke-width="0.5" />
<line x1="79.40" y1="205.48" x2="80.40" y2="205.48" stroke="#333" stroke-width="0.5" />
<line x1="79.40" y1="203.27" x2="80.40" y2="203.27" stroke="#333" stroke-width="0.5" />
<line x1="79.40" y1="201.06" x2="80.40" y2="201.06" stroke="#333" stroke-width="0.5" />
<line x1="79.40" y1="198.85" x2="80.40" y2="198.85" stroke="#333" stroke-width="0.5" />
<line x1="79.40" y1="196.64" x2="80.40" y2="196.64" stroke="#333" stroke-width="0.5" />
<line x1="79.40" y1="194.43" x2="80.40" y2="194.43" stroke="#333" stroke-width="0.5" />
<line x1="79.40" y1="192.22" x2="80.40" y2="192.22" stroke="#333" stroke-width="0.5" />
<line x1="79.40" y1="190.01" x2="80.40" y2="190.01" stroke="#333" stroke-width="0.5" />
<line x1="79.40" y1="187.80" x2="80.40" y2="187.80" stroke="#333" stroke-width="0.5" />
<line x1="80.40" y1="232.00" x2="131.20" y2="232.00" stroke="#333" stroke-width="0.6" />
<rect x="82.00" y="202.16" width="8.10" height="29.84" fill="#ffffff" stroke="#111" stroke-width="0.6"/>
<line x1="86.05" y1="202.16" x2="86.05" y2="199.95" stroke="#111" stroke-width="0.5" />
<line x1="84.55" y1="199.95" x2="87.55" y2="199.95" stroke="#111" stroke-width="0.5" />
<line x1="86.05" y1="202.16" x2="86.05" y2="204.38" stroke="#111" stroke-width="0.5" />
<line x1="84.55" y1="204.38" x2="87.55" y2="204.38" stroke="#111" stroke-width="0.5" />
<text x="86.0" y="198.0" font-size="4.8" text-anchor="middle" fill="#111" >y</text>
<text x="86.0" y="239.8" font-size="5.6" text-anchor="middle" fill="#111" >C1</text>
<rect x="90.10" y="200.62" width="8.10" height="31.38" fill="#c8c8c8" stroke="#111" stroke-width="0.6"/>
<line x1="94.15" y1="200.62" x2="94.15" y2="198.85" stroke="#111" stroke-width="0.5" />
<line x1="92.65" y1="198.85" x2="95.65" y2="198.85" stroke="#111" stroke-width="0.5" />
<line x1="94.15" y1="200.62" x2="94.15" y2="202.39" stroke="#111" stroke-width="0.5" />
<line x1="92.65" y1="202.39" x2="95.65" y2="202.39" stroke="#111" stroke-width="0.5" />
<text x="94.1" y="196.8" font-size="4.8" text-anchor="middle" fill="#111" >y</text>
<text x="94.1" y="239.8" font-size="5.6" text-anchor="middle" fill="#111" >C2</text>
<rect x="98.20" y="196.64" width="8.10" height="35.36" fill="#8c8c8c" stroke="#111" stroke-width="0.6"/>
<line x1="102.25" y1="196.64" x2="102.25" y2="193.99" stroke="#111" stroke-width="0.5" />
<line x1="100.75" y1="193.99" x2="103.75" y2="193.99" stroke="#111" stroke-width="0.5" />
<line x1="102.25" y1="196.64" x2="102.25" y2="199.29" stroke="#111" stroke-width="0.5" />
<line x1="100.75" y1="199.29" x2="103.75" y2="199.29" stroke="#111" stroke-width="0.5" />
<text x="102.2" y="192.0" font-size="4.8" text-anchor="middle" fill="#111" >xy</text>
<text x="102.2" y="239.8" font-size="5.6" text-anchor="middle" fill="#111" >C3</text>
<rect x="106.30" y="195.09" width="8.10" height="36.91" fill="#707070" stroke="#111" stroke-width="0.6"/>
<line x1="110.35" y1="195.09" x2="110.35" y2="193.77" stroke="#111" stroke-width="0.5" />
<line x1="108.85" y1="193.77" x2="111.85" y2="193.77" stroke="#111" stroke-width="0.5" />
<line x1="110.35" y1="195.09" x2="110.35" y2="196.42" stroke="#111" stroke-width="0.5" />
<line x1="108.85" y1="196.42" x2="111.85" y2="196.42" stroke="#111" stroke-width="0.5" />
<text x="110.3" y="191.8" font-size="4.8" text-anchor="middle" fill="#111" >xy</text>
<text x="110.3" y="239.8" font-size="5.6" text-anchor="middle" fill="#111" >C4</text>
<rect x="114.40" y="193.99" width="8.10" height="38.01" fill="#555555" stroke="#111" stroke-width="0.6"/>
<line x1="118.45" y1="193.99" x2="118.45" y2="192.22" stroke="#111" stroke-width="0.5" />
<line x1="116.95" y1="192.22" x2="119.95" y2="192.22" stroke="#111" stroke-width="0.5" />
<line x1="118.45" y1="193.99" x2="118.45" y2="195.76" stroke="#111" stroke-width="0.5" />
<line x1="116.95" y1="195.76" x2="119.95" y2="195.76" stroke="#111" stroke-width="0.5" />
<text x="118.5" y="190.2" font-size="4.8" text-anchor="middle" fill="#111" >xy</text>
<text x="118.5" y="239.8" font-size="5.6" text-anchor="middle" fill="#111" >C5</text>
<rect x="122.50" y="187.80" width="8.10" height="44.20" fill="#262626" stroke="#111" stroke-width="0.6"/>
<line x1="126.55" y1="187.80" x2="126.55" y2="186.03" stroke="#111" stroke-width="0.5" />
<line x1="125.05" y1="186.03" x2="128.05" y2="186.03" stroke="#111" stroke-width="0.5" />
<line x1="126.55" y1="187.80" x2="126.55" y2="189.57" stroke="#111" stroke-width="0.5" />
<line x1="125.05" y1="189.57" x2="128.05" y2="189.57" stroke="#111" stroke-width="0.5" />
<text x="126.5" y="184.0" font-size="4.8" text-anchor="middle" fill="#111" >x</text>
<text x="126.5" y="239.8" font-size="5.6" text-anchor="middle" fill="#111" >C6</text>
<text x="107.0" y="246.2" font-size="6.8" text-anchor="middle" fill="#111" >Chew</text>
<text x="213.3" y="26.0" font-size="5.65" text-anchor="middle" fill="#111" >Relative Glucose</text>
<text x="213.3" y="32.6" font-size="5.65" text-anchor="middle" fill="#111" >Response (%)</text>
<line x1="186.90" y1="39.70" x2="186.90" y2="85.90" stroke="#333" stroke-width="0.6" />
<line x1="185.10" y1="85.90" x2="186.90" y2="85.90" stroke="#333" stroke-width="0.5" />
<text x="184.8" y="87.7" font-size="4.9" text-anchor="end" fill="#111" >0</text>
<line x1="185.10" y1="76.96" x2="186.90" y2="76.96" stroke="#333" stroke-width="0.5" />
<text x="184.8" y="78.7" font-size="4.9" text-anchor="end" fill="#111" >20</text>
<line x1="185.10" y1="68.02" x2="186.90" y2="68.02" stroke="#333" stroke-width="0.5" />
<text x="184.8" y="69.8" font-size="4.9" text-anchor="end" fill="#111" >40</text>
<line x1="185.10" y1="59.08" x2="186.90" y2="59.08" stroke="#333" stroke-width="0.5" />
<text x="184.8" y="60.8" font-size="4.9" text-anchor="end" fill="#111" >60</text>
<line x1="185.10" y1="50.14" x2="186.90" y2="50.14" stroke="#333" stroke-width="0.5" />
<text x="184.8" y="51.9" font-size="4.9" text-anchor="end" fill="#111" >80</text>
<line x1="185.10" y1="41.20" x2="186.90" y2="41.20" stroke="#333" stroke-width="0.5" />
<text x="184.8" y="43.0" font-size="4.9" text-anchor="end" fill="#111" >100</text>
<line x1="185.90" y1="83.67" x2="186.90" y2="83.67" stroke="#333" stroke-width="0.5" />
<line x1="185.90" y1="81.43" x2="186.90" y2="81.43" stroke="#333" stroke-width="0.5" />
<line x1="185.90" y1="79.20" x2="186.90" y2="79.20" stroke="#333" stroke-width="0.5" />
<line x1="185.90" y1="76.96" x2="186.90" y2="76.96" stroke="#333" stroke-width="0.5" />
<line x1="185.90" y1="74.73" x2="186.90" y2="74.73" stroke="#333" stroke-width="0.5" />
<line x1="185.90" y1="72.49" x2="186.90" y2="72.49" stroke="#333" stroke-width="0.5" />
<line x1="185.90" y1="70.26" x2="186.90" y2="70.26" stroke="#333" stroke-width="0.5" />
<line x1="185.90" y1="68.02" x2="186.90" y2="68.02" stroke="#333" stroke-width="0.5" />
<line x1="185.90" y1="65.78" x2="186.90" y2="65.78" stroke="#333" stroke-width="0.5" />
<line x1="185.90" y1="63.55" x2="186.90" y2="63.55" stroke="#333" stroke-width="0.5" />
<line x1="185.90" y1="61.32" x2="186.90" y2="61.32" stroke="#333" stroke-width="0.5" />
<line x1="185.90" y1="59.08" x2="186.90" y2="59.08" stroke="#333" stroke-width="0.5" />
<line x1="185.90" y1="56.85" x2="186.90" y2="56.85" stroke="#333" stroke-width="0.5" />
<line x1="185.90" y1="54.61" x2="186.90" y2="54.61" stroke="#333" stroke-width="0.5" />
<line x1="185.90" y1="52.38" x2="186.90" y2="52.38" stroke="#333" stroke-width="0.5" />
<line x1="185.90" y1="50.14" x2="186.90" y2="50.14" stroke="#333" stroke-width="0.5" />
<line x1="185.90" y1="47.91" x2="186.90" y2="47.91" stroke="#333" stroke-width="0.5" />
<line x1="185.90" y1="45.67" x2="186.90" y2="45.67" stroke="#333" stroke-width="0.5" />
<line x1="185.90" y1="43.44" x2="186.90" y2="43.44" stroke="#333" stroke-width="0.5" />
<line x1="185.90" y1="41.20" x2="186.90" y2="41.20" stroke="#333" stroke-width="0.5" />
<line x1="186.90" y1="85.90" x2="237.00" y2="85.90" stroke="#333" stroke-width="0.6" />
<rect x="191.40" y="47.01" width="19.60" height="38.89" fill="#fff" stroke="#111" stroke-width="0.6"/>
<line x1="201.20" y1="47.01" x2="201.20" y2="45.67" stroke="#111" stroke-width="0.5" />
<line x1="199.00" y1="45.67" x2="203.40" y2="45.67" stroke="#111" stroke-width="0.5" />
<text x="201.2" y="82.6" font-size="5.8" text-anchor="middle" fill="#111" >120</text>
<text x="201.2" y="43.5" font-size="4.6" text-anchor="middle" fill="#111" >ε</text>
<rect x="214.60" y="48.80" width="19.60" height="37.10" fill="#fff" stroke="#111" stroke-width="0.6"/>
<line x1="224.40" y1="48.80" x2="224.40" y2="47.46" stroke="#111" stroke-width="0.5" />
<line x1="222.20" y1="47.46" x2="226.60" y2="47.46" stroke="#111" stroke-width="0.5" />
<text x="224.4" y="82.6" font-size="5.8" text-anchor="middle" fill="#111" >116</text>
<text x="224.4" y="45.3" font-size="4.6" text-anchor="middle" fill="#111" >ε</text>
<text x="201.2" y="91.0" font-size="4.7" text-anchor="middle" fill="#111" >All</text>
<text x="201.2" y="96.7" font-size="4.7" text-anchor="middle" fill="#111" >Subjects</text>
<text x="224.6" y="91.0" font-size="4.7" text-anchor="middle" fill="#111" >Outliers</text>
<text x="224.6" y="96.7" font-size="4.7" text-anchor="middle" fill="#111" >Excluded</text>
<text x="213.3" y="172.6" font-size="5.65" text-anchor="middle" fill="#111" >Relative Insulin</text>
<text x="213.3" y="179.2" font-size="5.65" text-anchor="middle" fill="#111" >Response (%)</text>
<line x1="186.00" y1="186.00" x2="186.00" y2="232.30" stroke="#333" stroke-width="0.6" />
<line x1="184.20" y1="232.30" x2="186.00" y2="232.30" stroke="#333" stroke-width="0.5" />
<text x="183.9" y="234.1" font-size="4.9" text-anchor="end" fill="#111" >0</text>
<line x1="184.20" y1="223.34" x2="186.00" y2="223.34" stroke="#333" stroke-width="0.5" />
<text x="183.9" y="225.1" font-size="4.9" text-anchor="end" fill="#111" >20</text>
<line x1="184.20" y1="214.38" x2="186.00" y2="214.38" stroke="#333" stroke-width="0.5" />
<text x="183.9" y="216.1" font-size="4.9" text-anchor="end" fill="#111" >40</text>
<line x1="184.20" y1="205.42" x2="186.00" y2="205.42" stroke="#333" stroke-width="0.5" />
<text x="183.9" y="207.2" font-size="4.9" text-anchor="end" fill="#111" >60</text>
<line x1="184.20" y1="196.46" x2="186.00" y2="196.46" stroke="#333" stroke-width="0.5" />
<text x="183.9" y="198.2" font-size="4.9" text-anchor="end" fill="#111" >80</text>
<line x1="184.20" y1="187.50" x2="186.00" y2="187.50" stroke="#333" stroke-width="0.5" />
<text x="183.9" y="189.2" font-size="4.9" text-anchor="end" fill="#111" >100</text>
<line x1="185.00" y1="230.06" x2="186.00" y2="230.06" stroke="#333" stroke-width="0.5" />
<line x1="185.00" y1="227.82" x2="186.00" y2="227.82" stroke="#333" stroke-width="0.5" />
<line x1="185.00" y1="225.58" x2="186.00" y2="225.58" stroke="#333" stroke-width="0.5" />
<line x1="185.00" y1="223.34" x2="186.00" y2="223.34" stroke="#333" stroke-width="0.5" />
<line x1="185.00" y1="221.10" x2="186.00" y2="221.10" stroke="#333" stroke-width="0.5" />
<line x1="185.00" y1="218.86" x2="186.00" y2="218.86" stroke="#333" stroke-width="0.5" />
<line x1="185.00" y1="216.62" x2="186.00" y2="216.62" stroke="#333" stroke-width="0.5" />
<line x1="185.00" y1="214.38" x2="186.00" y2="214.38" stroke="#333" stroke-width="0.5" />
<line x1="185.00" y1="212.14" x2="186.00" y2="212.14" stroke="#333" stroke-width="0.5" />
<line x1="185.00" y1="209.90" x2="186.00" y2="209.90" stroke="#333" stroke-width="0.5" />
<line x1="185.00" y1="207.66" x2="186.00" y2="207.66" stroke="#333" stroke-width="0.5" />
<line x1="185.00" y1="205.42" x2="186.00" y2="205.42" stroke="#333" stroke-width="0.5" />
<line x1="185.00" y1="203.18" x2="186.00" y2="203.18" stroke="#333" stroke-width="0.5" />
<line x1="185.00" y1="200.94" x2="186.00" y2="200.94" stroke="#333" stroke-width="0.5" />
<line x1="185.00" y1="198.70" x2="186.00" y2="198.70" stroke="#333" stroke-width="0.5" />
<line x1="185.00" y1="196.46" x2="186.00" y2="196.46" stroke="#333" stroke-width="0.5" />
<line x1="185.00" y1="194.22" x2="186.00" y2="194.22" stroke="#333" stroke-width="0.5" />
<line x1="185.00" y1="191.98" x2="186.00" y2="191.98" stroke="#333" stroke-width="0.5" />
<line x1="185.00" y1="189.74" x2="186.00" y2="189.74" stroke="#333" stroke-width="0.5" />
<line x1="185.00" y1="187.50" x2="186.00" y2="187.50" stroke="#333" stroke-width="0.5" />
<line x1="186.00" y1="232.30" x2="237.00" y2="232.30" stroke="#333" stroke-width="0.6" />
<rect x="191.40" y="189.74" width="19.60" height="42.56" fill="#fff" stroke="#111" stroke-width="0.6"/>
<line x1="201.20" y1="189.74" x2="201.20" y2="188.40" stroke="#111" stroke-width="0.5" />
<line x1="199.00" y1="188.40" x2="203.40" y2="188.40" stroke="#111" stroke-width="0.5" />
<text x="201.2" y="230.2" font-size="5.8" text-anchor="middle" fill="#111" >120</text>
<rect x="214.60" y="193.32" width="19.60" height="38.98" fill="#fff" stroke="#111" stroke-width="0.6"/>
<line x1="224.40" y1="193.32" x2="224.40" y2="191.98" stroke="#111" stroke-width="0.5" />
<line x1="222.20" y1="191.98" x2="226.60" y2="191.98" stroke="#111" stroke-width="0.5" />
<text x="224.4" y="230.2" font-size="5.8" text-anchor="middle" fill="#111" >116</text>
<text x="224.4" y="189.8" font-size="4.6" text-anchor="middle" fill="#111" >ε</text>
<text x="201.2" y="238.4" font-size="4.7" text-anchor="middle" fill="#111" >All</text>
<text x="201.2" y="244.1" font-size="4.7" text-anchor="middle" fill="#111" >Subjects</text>
<text x="224.6" y="238.4" font-size="4.7" text-anchor="middle" fill="#111" >Outliers</text>
<text x="224.6" y="244.1" font-size="4.7" text-anchor="middle" fill="#111" >Excluded</text>
<text x="319.6" y="25.2" font-size="5.5" text-anchor="middle" fill="#111" >Relative Glucose</text>
<text x="319.6" y="31.2" font-size="5.5" text-anchor="middle" fill="#111" >Response (%)</text>
<line x1="293.80" y1="39.00" x2="293.80" y2="86.00" stroke="#333" stroke-width="0.6" />
<line x1="292.00" y1="86.00" x2="293.80" y2="86.00" stroke="#333" stroke-width="0.5" />
<text x="291.7" y="87.8" font-size="4.9" text-anchor="end" fill="#111" >0</text>
<line x1="292.00" y1="76.90" x2="293.80" y2="76.90" stroke="#333" stroke-width="0.5" />
<text x="291.7" y="78.7" font-size="4.9" text-anchor="end" fill="#111" >20</text>
<line x1="292.00" y1="67.80" x2="293.80" y2="67.80" stroke="#333" stroke-width="0.5" />
<text x="291.7" y="69.5" font-size="4.9" text-anchor="end" fill="#111" >40</text>
<line x1="292.00" y1="58.70" x2="293.80" y2="58.70" stroke="#333" stroke-width="0.5" />
<text x="291.7" y="60.5" font-size="4.9" text-anchor="end" fill="#111" >60</text>
<line x1="292.00" y1="49.60" x2="293.80" y2="49.60" stroke="#333" stroke-width="0.5" />
<text x="291.7" y="51.4" font-size="4.9" text-anchor="end" fill="#111" >80</text>
<line x1="292.00" y1="40.50" x2="293.80" y2="40.50" stroke="#333" stroke-width="0.5" />
<text x="291.7" y="42.2" font-size="4.9" text-anchor="end" fill="#111" >100</text>
<line x1="292.80" y1="83.72" x2="293.80" y2="83.72" stroke="#333" stroke-width="0.5" />
<line x1="292.80" y1="81.45" x2="293.80" y2="81.45" stroke="#333" stroke-width="0.5" />
<line x1="292.80" y1="79.17" x2="293.80" y2="79.17" stroke="#333" stroke-width="0.5" />
<line x1="292.80" y1="76.90" x2="293.80" y2="76.90" stroke="#333" stroke-width="0.5" />
<line x1="292.80" y1="74.62" x2="293.80" y2="74.62" stroke="#333" stroke-width="0.5" />
<line x1="292.80" y1="72.35" x2="293.80" y2="72.35" stroke="#333" stroke-width="0.5" />
<line x1="292.80" y1="70.08" x2="293.80" y2="70.08" stroke="#333" stroke-width="0.5" />
<line x1="292.80" y1="67.80" x2="293.80" y2="67.80" stroke="#333" stroke-width="0.5" />
<line x1="292.80" y1="65.53" x2="293.80" y2="65.53" stroke="#333" stroke-width="0.5" />
<line x1="292.80" y1="63.25" x2="293.80" y2="63.25" stroke="#333" stroke-width="0.5" />
<line x1="292.80" y1="60.97" x2="293.80" y2="60.97" stroke="#333" stroke-width="0.5" />
<line x1="292.80" y1="58.70" x2="293.80" y2="58.70" stroke="#333" stroke-width="0.5" />
<line x1="292.80" y1="56.42" x2="293.80" y2="56.42" stroke="#333" stroke-width="0.5" />
<line x1="292.80" y1="54.15" x2="293.80" y2="54.15" stroke="#333" stroke-width="0.5" />
<line x1="292.80" y1="51.88" x2="293.80" y2="51.88" stroke="#333" stroke-width="0.5" />
<line x1="292.80" y1="49.60" x2="293.80" y2="49.60" stroke="#333" stroke-width="0.5" />
<line x1="292.80" y1="47.32" x2="293.80" y2="47.32" stroke="#333" stroke-width="0.5" />
<line x1="292.80" y1="45.05" x2="293.80" y2="45.05" stroke="#333" stroke-width="0.5" />
<line x1="292.80" y1="42.77" x2="293.80" y2="42.77" stroke="#333" stroke-width="0.5" />
<line x1="292.80" y1="40.50" x2="293.80" y2="40.50" stroke="#333" stroke-width="0.5" />
<line x1="293.80" y1="86.00" x2="346.00" y2="86.00" stroke="#333" stroke-width="0.6" />
<rect x="295.50" y="47.19" width="7.30" height="38.81" fill="#555555" stroke="#111" stroke-width="0.6"/>
<line x1="299.15" y1="47.19" x2="299.15" y2="44.91" stroke="#111" stroke-width="0.5" />
<line x1="297.55" y1="44.91" x2="300.75" y2="44.91" stroke="#111" stroke-width="0.5" />
<line x1="299.15" y1="47.19" x2="299.15" y2="49.46" stroke="#111" stroke-width="0.5" />
<line x1="297.55" y1="49.46" x2="300.75" y2="49.46" stroke="#111" stroke-width="0.5" />
<text x="299.1" y="82.8" font-size="5.0" text-anchor="middle" fill="#222" >40</text>
<text x="299.1" y="92.6" font-size="5.6" text-anchor="middle" fill="#111" >1</text>
<rect x="303.20" y="48.23" width="7.30" height="37.77" fill="#bdbdbd" stroke="#111" stroke-width="0.6"/>
<line x1="306.85" y1="48.23" x2="306.85" y2="45.50" stroke="#111" stroke-width="0.5" />
<line x1="305.25" y1="45.50" x2="308.45" y2="45.50" stroke="#111" stroke-width="0.5" />
<line x1="306.85" y1="48.23" x2="306.85" y2="50.96" stroke="#111" stroke-width="0.5" />
<line x1="305.25" y1="50.96" x2="308.45" y2="50.96" stroke="#111" stroke-width="0.5" />
<text x="306.8" y="82.8" font-size="5.0" text-anchor="middle" fill="#111" >40</text>
<text x="306.8" y="92.6" font-size="5.6" text-anchor="middle" fill="#111" >2</text>
<rect x="310.90" y="45.19" width="7.30" height="40.81" fill="#ffffff" stroke="#111" stroke-width="0.6"/>
<line x1="314.55" y1="45.19" x2="314.55" y2="42.46" stroke="#111" stroke-width="0.5" />
<line x1="312.95" y1="42.46" x2="316.15" y2="42.46" stroke="#111" stroke-width="0.5" />
<line x1="314.55" y1="45.19" x2="314.55" y2="47.92" stroke="#111" stroke-width="0.5" />
<line x1="312.95" y1="47.92" x2="316.15" y2="47.92" stroke="#111" stroke-width="0.5" />
<text x="314.5" y="82.8" font-size="5.0" text-anchor="middle" fill="#111" >40</text>
<text x="314.5" y="92.6" font-size="5.6" text-anchor="middle" fill="#111" >3</text>
<rect x="322.10" y="49.14" width="7.30" height="36.86" fill="#555555" stroke="#111" stroke-width="0.6"/>
<line x1="325.75" y1="49.14" x2="325.75" y2="47.32" stroke="#111" stroke-width="0.5" />
<line x1="324.15" y1="47.32" x2="327.35" y2="47.32" stroke="#111" stroke-width="0.5" />
<line x1="325.75" y1="49.14" x2="325.75" y2="50.96" stroke="#111" stroke-width="0.5" />
<line x1="324.15" y1="50.96" x2="327.35" y2="50.96" stroke="#111" stroke-width="0.5" />
<text x="325.8" y="82.8" font-size="5.0" text-anchor="middle" fill="#222" >39</text>
<text x="325.8" y="92.6" font-size="5.6" text-anchor="middle" fill="#111" >1</text>
<rect x="329.80" y="50.19" width="7.30" height="35.81" fill="#bdbdbd" stroke="#111" stroke-width="0.6"/>
<line x1="333.45" y1="50.19" x2="333.45" y2="48.37" stroke="#111" stroke-width="0.5" />
<line x1="331.85" y1="48.37" x2="335.05" y2="48.37" stroke="#111" stroke-width="0.5" />
<line x1="333.45" y1="50.19" x2="333.45" y2="52.01" stroke="#111" stroke-width="0.5" />
<line x1="331.85" y1="52.01" x2="335.05" y2="52.01" stroke="#111" stroke-width="0.5" />
<text x="333.4" y="82.8" font-size="5.0" text-anchor="middle" fill="#111" >39</text>
<text x="333.4" y="92.6" font-size="5.6" text-anchor="middle" fill="#111" >2</text>
<rect x="337.50" y="47.78" width="7.30" height="38.22" fill="#ffffff" stroke="#111" stroke-width="0.6"/>
<line x1="341.15" y1="47.78" x2="341.15" y2="45.50" stroke="#111" stroke-width="0.5" />
<line x1="339.55" y1="45.50" x2="342.75" y2="45.50" stroke="#111" stroke-width="0.5" />
<line x1="341.15" y1="47.78" x2="341.15" y2="50.05" stroke="#111" stroke-width="0.5" />
<line x1="339.55" y1="50.05" x2="342.75" y2="50.05" stroke="#111" stroke-width="0.5" />
<text x="341.1" y="82.8" font-size="5.0" text-anchor="middle" fill="#111" >38</text>
<text x="341.1" y="92.6" font-size="5.6" text-anchor="middle" fill="#111" >3</text>
<text x="320.0" y="99.0" font-size="6.8" text-anchor="middle" fill="#111" >Study</text>
<text x="333.4" y="38.4" font-size="5.0" text-anchor="middle" fill="#111" >Outliers</text>
<text x="333.4" y="43.6" font-size="5.0" text-anchor="middle" fill="#111" >Excluded</text>
<text x="319.6" y="172.2" font-size="5.5" text-anchor="middle" fill="#111" >Relative Insulin</text>
<text x="319.6" y="178.2" font-size="5.5" text-anchor="middle" fill="#111" >Response (%)</text>
<line x1="294.60" y1="183.66" x2="294.60" y2="232.80" stroke="#333" stroke-width="0.6" />
<line x1="292.80" y1="232.80" x2="294.60" y2="232.80" stroke="#333" stroke-width="0.5" />
<text x="292.5" y="234.6" font-size="4.9" text-anchor="end" fill="#111" >0</text>
<line x1="292.80" y1="216.92" x2="294.60" y2="216.92" stroke="#333" stroke-width="0.5" />
<text x="292.5" y="218.7" font-size="4.9" text-anchor="end" fill="#111" >40</text>
<line x1="292.80" y1="201.04" x2="294.60" y2="201.04" stroke="#333" stroke-width="0.5" />
<text x="292.5" y="202.8" font-size="4.9" text-anchor="end" fill="#111" >80</text>
<line x1="292.80" y1="185.16" x2="294.60" y2="185.16" stroke="#333" stroke-width="0.5" />
<text x="292.5" y="186.9" font-size="4.9" text-anchor="end" fill="#111" >120</text>
<line x1="293.60" y1="228.83" x2="294.60" y2="228.83" stroke="#333" stroke-width="0.5" />
<line x1="293.60" y1="224.86" x2="294.60" y2="224.86" stroke="#333" stroke-width="0.5" />
<line x1="293.60" y1="220.89" x2="294.60" y2="220.89" stroke="#333" stroke-width="0.5" />
<line x1="293.60" y1="216.92" x2="294.60" y2="216.92" stroke="#333" stroke-width="0.5" />
<line x1="293.60" y1="212.95" x2="294.60" y2="212.95" stroke="#333" stroke-width="0.5" />
<line x1="293.60" y1="208.98" x2="294.60" y2="208.98" stroke="#333" stroke-width="0.5" />
<line x1="293.60" y1="205.01" x2="294.60" y2="205.01" stroke="#333" stroke-width="0.5" />
<line x1="293.60" y1="201.04" x2="294.60" y2="201.04" stroke="#333" stroke-width="0.5" />
<line x1="293.60" y1="197.07" x2="294.60" y2="197.07" stroke="#333" stroke-width="0.5" />
<line x1="293.60" y1="193.10" x2="294.60" y2="193.10" stroke="#333" stroke-width="0.5" />
<line x1="293.60" y1="189.13" x2="294.60" y2="189.13" stroke="#333" stroke-width="0.5" />
<line x1="293.60" y1="185.16" x2="294.60" y2="185.16" stroke="#333" stroke-width="0.5" />
<line x1="294.60" y1="232.80" x2="346.00" y2="232.80" stroke="#333" stroke-width="0.6" />
<rect x="295.50" y="197.31" width="7.30" height="35.49" fill="#555555" stroke="#111" stroke-width="0.6"/>
<line x1="299.15" y1="197.31" x2="299.15" y2="194.93" stroke="#111" stroke-width="0.5" />
<line x1="297.55" y1="194.93" x2="300.75" y2="194.93" stroke="#111" stroke-width="0.5" />
<line x1="299.15" y1="197.31" x2="299.15" y2="199.69" stroke="#111" stroke-width="0.5" />
<line x1="297.55" y1="199.69" x2="300.75" y2="199.69" stroke="#111" stroke-width="0.5" />
<text x="299.1" y="229.6" font-size="5.0" text-anchor="middle" fill="#222" >40</text>
<text x="299.1" y="239.4" font-size="5.6" text-anchor="middle" fill="#111" >1</text>
<rect x="303.20" y="194.69" width="7.30" height="38.11" fill="#bdbdbd" stroke="#111" stroke-width="0.6"/>
<line x1="306.85" y1="194.69" x2="306.85" y2="190.32" stroke="#111" stroke-width="0.5" />
<line x1="305.25" y1="190.32" x2="308.45" y2="190.32" stroke="#111" stroke-width="0.5" />
<line x1="306.85" y1="194.69" x2="306.85" y2="199.06" stroke="#111" stroke-width="0.5" />
<line x1="305.25" y1="199.06" x2="308.45" y2="199.06" stroke="#111" stroke-width="0.5" />
<text x="306.8" y="229.6" font-size="5.0" text-anchor="middle" fill="#111" >40</text>
<text x="306.8" y="239.4" font-size="5.6" text-anchor="middle" fill="#111" >2</text>
<rect x="310.90" y="195.28" width="7.30" height="37.52" fill="#ffffff" stroke="#111" stroke-width="0.6"/>
<line x1="314.55" y1="195.28" x2="314.55" y2="193.30" stroke="#111" stroke-width="0.5" />
<line x1="312.95" y1="193.30" x2="316.15" y2="193.30" stroke="#111" stroke-width="0.5" />
<line x1="314.55" y1="195.28" x2="314.55" y2="197.27" stroke="#111" stroke-width="0.5" />
<line x1="312.95" y1="197.27" x2="316.15" y2="197.27" stroke="#111" stroke-width="0.5" />
<text x="314.5" y="229.6" font-size="5.0" text-anchor="middle" fill="#111" >40</text>
<text x="314.5" y="239.4" font-size="5.6" text-anchor="middle" fill="#111" >3</text>
<rect x="322.10" y="198.18" width="7.30" height="34.62" fill="#555555" stroke="#111" stroke-width="0.6"/>
<line x1="325.75" y1="198.18" x2="325.75" y2="195.40" stroke="#111" stroke-width="0.5" />
<line x1="324.15" y1="195.40" x2="327.35" y2="195.40" stroke="#111" stroke-width="0.5" />
<line x1="325.75" y1="198.18" x2="325.75" y2="200.96" stroke="#111" stroke-width="0.5" />
<line x1="324.15" y1="200.96" x2="327.35" y2="200.96" stroke="#111" stroke-width="0.5" />
<text x="325.8" y="229.6" font-size="5.0" text-anchor="middle" fill="#222" >39</text>
<text x="325.8" y="239.4" font-size="5.6" text-anchor="middle" fill="#111" >1</text>
<rect x="329.80" y="199.06" width="7.30" height="33.75" fill="#bdbdbd" stroke="#111" stroke-width="0.6"/>
<line x1="333.45" y1="199.06" x2="333.45" y2="195.88" stroke="#111" stroke-width="0.5" />
<line x1="331.85" y1="195.88" x2="335.05" y2="195.88" stroke="#111" stroke-width="0.5" />
<line x1="333.45" y1="199.06" x2="333.45" y2="202.23" stroke="#111" stroke-width="0.5" />
<line x1="331.85" y1="202.23" x2="335.05" y2="202.23" stroke="#111" stroke-width="0.5" />
<text x="333.4" y="229.6" font-size="5.0" text-anchor="middle" fill="#111" >37</text>
<text x="333.4" y="239.4" font-size="5.6" text-anchor="middle" fill="#111" >2</text>
<rect x="337.50" y="197.31" width="7.30" height="35.49" fill="#ffffff" stroke="#111" stroke-width="0.6"/>
<line x1="341.15" y1="197.31" x2="341.15" y2="194.53" stroke="#111" stroke-width="0.5" />
<line x1="339.55" y1="194.53" x2="342.75" y2="194.53" stroke="#111" stroke-width="0.5" />
<line x1="341.15" y1="197.31" x2="341.15" y2="200.09" stroke="#111" stroke-width="0.5" />
<line x1="339.55" y1="200.09" x2="342.75" y2="200.09" stroke="#111" stroke-width="0.5" />
<text x="341.1" y="229.6" font-size="5.0" text-anchor="middle" fill="#111" >38</text>
<text x="341.1" y="239.4" font-size="5.6" text-anchor="middle" fill="#111" >3</text>
<text x="320.0" y="245.8" font-size="6.8" text-anchor="middle" fill="#111" >Study</text>
<text x="333.4" y="185.3" font-size="5.0" text-anchor="middle" fill="#111" >Outliers</text>
<text x="333.4" y="190.8" font-size="5.0" text-anchor="middle" fill="#111" >Excluded</text>
</svg></body></html>
